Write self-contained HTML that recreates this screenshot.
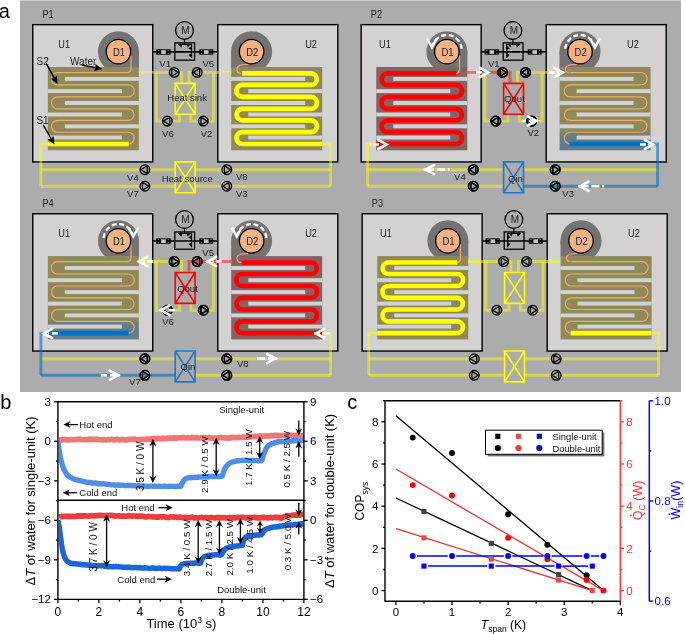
<!DOCTYPE html><html><head><meta charset="utf-8"><style>html,body{margin:0;padding:0;background:#fff;}svg{display:block;will-change:transform;}</style></head><body>
<svg width="685" height="634" viewBox="0 0 685 634" font-family='"Liberation Sans", sans-serif'>
<rect width="685" height="634" fill="#fff"/>
<rect x="20" y="0" width="661" height="392" fill="#acacac"/>
<rect x="20" y="0" width="661" height="1" fill="#cfcfcf"/>
<text x="-1.2" y="17.5" font-size="20" text-anchor="start" fill="#000" >a</text>
<text transform="translate(42.4,17.9) scale(0.92,1)" font-size="10" fill="#1a1a1a">P1</text>
<rect x="32.75" y="24.65" width="120" height="137.3" fill="#d3d1d2" stroke="#000" stroke-width="1.4"/>
<path d="M118.45 68 V51.7 H138.95 V68 Z" fill="#767272"/>
<circle cx="118.45" cy="51.7" r="20.5" fill="#767272"/>
<rect x="47.85" y="67" width="91" height="83.3" fill="#8f8958"/>
<rect x="64.85" y="76.93" width="74" height="3.95" fill="#d3d1d2"/>
<rect x="47.85" y="89.12" width="74" height="3.95" fill="#d3d1d2"/>
<rect x="64.85" y="101.03" width="74" height="3.95" fill="#d3d1d2"/>
<rect x="47.85" y="112.53" width="74" height="3.95" fill="#d3d1d2"/>
<rect x="64.85" y="124.33" width="74" height="3.95" fill="#d3d1d2"/>
<rect x="47.85" y="135.53" width="74" height="3.95" fill="#d3d1d2"/>
<path d="M131.05 55.7 V68.5 Q131.05 72.5 127.05 72.5 H128.25" fill="none" stroke="#eeab76" stroke-width="1.15"/>
<path d="M128.25 72.5 H57.45 A6.2 6.2 0 0 0 57.45 84.9 H128.25 A6 6 0 0 1 128.25 96.9 H57.45 A5.95 5.95 0 0 0 57.45 108.8 H128.25 A5.8 5.8 0 0 1 128.25 120.4 H57.45 A5.9 5.9 0 0 0 57.45 132.2 H128.25 A5.9 5.9 0 0 1 128.25 144 H57.45 " fill="none" stroke="#eeab76" stroke-width="1.15"/>
<line x1="47.85" y1="144" x2="128.75" y2="144" stroke="#ffff00" stroke-width="4.7"/>
<circle cx="118.45" cy="51.7" r="12.25" fill="#f4b183" stroke="#000" stroke-width="1.3"/>
<text transform="translate(119.05,55.9) scale(0.93,1)" font-size="10.2" text-anchor="middle" fill="#1a1a1a">D1</text>
<text transform="translate(58.25,47.75) scale(0.92,1)" font-size="10" fill="#1a1a1a">U1</text>
<rect x="217.8" y="24.65" width="120" height="137.3" fill="#d3d1d2" stroke="#000" stroke-width="1.4"/>
<path d="M251.6 68 V51.7 H231.1 V68 Z" fill="#767272"/>
<circle cx="251.6" cy="51.7" r="20.5" fill="#767272"/>
<rect x="231.2" y="67" width="91" height="83.3" fill="#8f8958"/>
<rect x="231.2" y="76.93" width="74" height="3.95" fill="#d3d1d2"/>
<rect x="248.2" y="89.12" width="74" height="3.95" fill="#d3d1d2"/>
<rect x="231.2" y="101.03" width="74" height="3.95" fill="#d3d1d2"/>
<rect x="248.2" y="112.53" width="74" height="3.95" fill="#d3d1d2"/>
<rect x="231.2" y="124.33" width="74" height="3.95" fill="#d3d1d2"/>
<rect x="248.2" y="135.53" width="74" height="3.95" fill="#d3d1d2"/>
<path d="M248.3 64.4 C240.1 64.5 236.9 65.7 236.9 69 C236.9 72.1 238.6 73.4 240.9 73.4" fill="none" stroke="#eeab76" stroke-width="1.15"/>
<path d="M242.2 73.4 H311 A5.75 5.75 0 0 1 311 84.9 H242.4 A6 6 0 0 0 242.4 96.9 H311 A5.95 5.95 0 0 1 311 108.8 H242.4 A5.8 5.8 0 0 0 242.4 120.4 H311 A5.9 5.9 0 0 1 311 132.2 H242.4 A5.9 5.9 0 0 0 242.4 144 H311 H322.2" fill="none" stroke="#ffff00" stroke-width="4.7"/>
<circle cx="251.6" cy="51.7" r="12.25" fill="#f4b183" stroke="#000" stroke-width="1.3"/>
<text transform="translate(252.2,55.9) scale(0.93,1)" font-size="10.2" text-anchor="middle" fill="#1a1a1a">D2</text>
<text transform="translate(305.2,47.75) scale(0.92,1)" font-size="10" fill="#1a1a1a">U2</text>
<line x1="152.8" y1="51.9" x2="217.8" y2="51.9" stroke="#000" stroke-width="1.6"/>
<circle cx="184.5" cy="30.45" r="8.9" fill="none" stroke="#000" stroke-width="1.3"/>
<text x="185.4" y="33.8" font-size="10" text-anchor="middle" fill="#1a1a1a" >M</text>
<line x1="184.5" y1="39.3" x2="184.5" y2="44.3" stroke="#000" stroke-width="1.2"/>
<rect x="174.8" y="42.85" width="19.8" height="17.3" fill="none" stroke="#000" stroke-width="1.3"/>
<g transform="translate(0,0)"><path d="M178.1 44.3 H191.5 V58.1" fill="none" stroke="#000" stroke-width="1.3"/><path d="M178.2 44.3 L182.7 44.3 L181.3 47.6 Z M186.7 44.3 L190.3 44.3 L187.8 47.5 Z M191.5 45.9 L191.5 49.7 L188.3 48.5 Z M191.5 53.1 L191.5 57.9 L188.7 54.9 Z" fill="#000"/></g>
<rect x="156.2" y="49.3" width="14.5" height="5.4" fill="#000"/>
<rect x="161.15" y="50.2" width="4.6" height="3.7" fill="#c8c8c8"/>
<rect x="157.8" y="50.1" width="1.4" height="0.9" fill="#777"/>
<rect x="157.8" y="53.1" width="1.4" height="0.9" fill="#777"/>
<rect x="167.7" y="50.1" width="1.4" height="0.9" fill="#777"/>
<rect x="167.7" y="53.1" width="1.4" height="0.9" fill="#777"/>
<rect x="199.3" y="49.3" width="14" height="5.4" fill="#000"/>
<rect x="204" y="50.2" width="4.6" height="3.7" fill="#c8c8c8"/>
<rect x="200.9" y="50.1" width="1.4" height="0.9" fill="#777"/>
<rect x="200.9" y="53.1" width="1.4" height="0.9" fill="#777"/>
<rect x="210.3" y="50.1" width="1.4" height="0.9" fill="#777"/>
<rect x="210.3" y="53.1" width="1.4" height="0.9" fill="#777"/>
<path d="M138.85 72.4 H174.2" fill="none" stroke="rgba(255,255,0,0.5)" stroke-width="2.9" stroke-linejoin="miter" stroke-linecap="butt"/>
<path d="M174.2 72.4 H181.6 V83.4" fill="none" stroke="rgba(255,255,0,0.5)" stroke-width="2.9" stroke-linejoin="miter" stroke-linecap="butt"/>
<path d="M197.2 72.4 H189 V83.4" fill="none" stroke="rgba(255,255,0,0.5)" stroke-width="2.9" stroke-linejoin="miter" stroke-linecap="butt"/>
<path d="M197.2 72.4 H231.2" fill="none" stroke="rgba(255,255,0,0.5)" stroke-width="2.9" stroke-linejoin="miter" stroke-linecap="butt"/>
<path d="M156.4 72.4 V121.1 H167.4" fill="none" stroke="rgba(255,255,0,0.5)" stroke-width="2.9" stroke-linejoin="miter" stroke-linecap="butt"/>
<path d="M213.6 72.4 V121.1 H203.3" fill="none" stroke="rgba(255,255,0,0.5)" stroke-width="2.9" stroke-linejoin="miter" stroke-linecap="butt"/>
<path d="M179.6 114.3 V121.1 H167.4" fill="none" stroke="rgba(255,255,0,0.5)" stroke-width="2.9" stroke-linejoin="miter" stroke-linecap="butt"/>
<path d="M190.9 114.3 V121.1 H203.3" fill="none" stroke="rgba(255,255,0,0.5)" stroke-width="2.9" stroke-linejoin="miter" stroke-linecap="butt"/>
<path d="M47.85 144 H40.9 V186.2" fill="none" stroke="rgba(255,255,0,0.5)" stroke-width="2.9" stroke-linejoin="miter" stroke-linecap="butt"/>
<path d="M40.9 169.7 H175" fill="none" stroke="rgba(255,255,0,0.5)" stroke-width="2.9" stroke-linejoin="miter" stroke-linecap="butt"/>
<path d="M40.9 186.2 H175" fill="none" stroke="rgba(255,255,0,0.5)" stroke-width="2.9" stroke-linejoin="miter" stroke-linecap="butt"/>
<path d="M195.2 169.7 H330.6" fill="none" stroke="rgba(255,255,0,0.5)" stroke-width="2.9" stroke-linejoin="miter" stroke-linecap="butt"/>
<path d="M195.2 186.2 H330.6" fill="none" stroke="rgba(255,255,0,0.5)" stroke-width="2.9" stroke-linejoin="miter" stroke-linecap="butt"/>
<path d="M322.2 144 H330.6 V186.2" fill="none" stroke="rgba(255,255,0,0.5)" stroke-width="2.9" stroke-linejoin="miter" stroke-linecap="butt"/>
<path d="M175.2 83.4 H195.1 V114.3 H175.2 Z M175.2 83.4 L195.1 114.3 M195.1 83.4 L175.2 114.3" fill="none" stroke="#ffff00" stroke-width="1.6"/>
<path d="M175.2 161.9 H195.1 V192.8 H175.2 Z M175.2 161.9 L195.1 192.8 M195.1 161.9 L175.2 192.8" fill="none" stroke="#ffff00" stroke-width="1.6"/>
<circle cx="174.2" cy="72.4" r="4.85" fill="#acacac" stroke="#000" stroke-width="1.35"/>
<path d="M171.8 68.5 L178.2 72.4 L171.8 76.3 Z" fill="none" stroke="#000" stroke-width="1.25" stroke-linejoin="round"/>
<circle cx="197.2" cy="72.4" r="4.85" fill="#acacac" stroke="#000" stroke-width="1.35"/>
<path d="M199.6 68.5 L193.2 72.4 L199.6 76.3 Z" fill="none" stroke="#000" stroke-width="1.25" stroke-linejoin="round"/>
<circle cx="167.4" cy="121.1" r="4.85" fill="#acacac" stroke="#000" stroke-width="1.35"/>
<path d="M169.8 117.2 L163.4 121.1 L169.8 125 Z" fill="none" stroke="#000" stroke-width="1.25" stroke-linejoin="round"/>
<circle cx="203.3" cy="121.1" r="4.85" fill="#acacac" stroke="#000" stroke-width="1.35"/>
<path d="M200.9 117.2 L207.3 121.1 L200.9 125 Z" fill="none" stroke="#000" stroke-width="1.25" stroke-linejoin="round"/>
<circle cx="144.9" cy="169.7" r="4.85" fill="#acacac" stroke="#000" stroke-width="1.35"/>
<path d="M147.3 165.8 L140.9 169.7 L147.3 173.6 Z" fill="none" stroke="#000" stroke-width="1.25" stroke-linejoin="round"/>
<circle cx="144.9" cy="186.2" r="4.85" fill="#acacac" stroke="#000" stroke-width="1.35"/>
<path d="M142.5 182.3 L148.9 186.2 L142.5 190.1 Z" fill="none" stroke="#000" stroke-width="1.25" stroke-linejoin="round"/>
<circle cx="226.8" cy="169.7" r="4.85" fill="#acacac" stroke="#000" stroke-width="1.35"/>
<path d="M224.4 165.8 L230.8 169.7 L224.4 173.6 Z" fill="none" stroke="#000" stroke-width="1.25" stroke-linejoin="round"/>
<circle cx="226.8" cy="186.2" r="4.85" fill="#acacac" stroke="#000" stroke-width="1.35"/>
<path d="M229.2 182.3 L222.8 186.2 L229.2 190.1 Z" fill="none" stroke="#000" stroke-width="1.25" stroke-linejoin="round"/>
<text x="187.1" y="101.4" font-size="9.5" text-anchor="middle" fill="#1a1a1a" >Heat sink</text>
<text x="187.3" y="181.5" font-size="9.5" text-anchor="middle" fill="#1a1a1a" >Heat source</text>
<text x="159.3" y="67.3" font-size="9.5" text-anchor="start" fill="#1a1a1a" >V1</text>
<text x="202.5" y="67.3" font-size="9.5" text-anchor="start" fill="#1a1a1a" >V5</text>
<text x="162.1" y="136.5" font-size="9.5" text-anchor="start" fill="#1a1a1a" >V6</text>
<text x="200.7" y="136.5" font-size="9.5" text-anchor="start" fill="#1a1a1a" >V2</text>
<text x="127.1" y="180.5" font-size="9.5" text-anchor="start" fill="#1a1a1a" >V4</text>
<text x="127.1" y="197" font-size="9.5" text-anchor="start" fill="#1a1a1a" >V7</text>
<text x="236" y="179.9" font-size="9.5" text-anchor="start" fill="#1a1a1a" >V8</text>
<text x="236" y="197" font-size="9.5" text-anchor="start" fill="#1a1a1a" >V3</text>
<text x="36.6" y="64.5" font-size="10" text-anchor="start" fill="#1a1a1a" >S2</text>
<text x="70" y="64.8" font-size="10" text-anchor="start" fill="#1a1a1a" >Water</text>
<text x="36.4" y="123.9" font-size="10" text-anchor="start" fill="#1a1a1a" >S1</text>
<line x1="46.2" y1="63.4" x2="54.31" y2="78.05" stroke="#000" stroke-width="1.5"/>
<path d="M57.6 84 L50.76 78.87 L54.4 78.23 L56.89 75.48 Z" fill="#000"/>
<line x1="81.7" y1="65.1" x2="95.62" y2="67.74" stroke="#000" stroke-width="1.5"/>
<path d="M102.3 69 L93.99 70.99 L95.82 67.77 L95.29 64.11 Z" fill="#000"/>
<line x1="43.2" y1="124.9" x2="51.09" y2="138.52" stroke="#000" stroke-width="1.5"/>
<path d="M54.5 144.4 L47.56 139.41 L51.19 138.69 L53.62 135.9 Z" fill="#000"/>
<text transform="translate(370.8,17.9) scale(0.92,1)" font-size="10" fill="#1a1a1a">P2</text>
<rect x="361.15" y="24.65" width="120" height="137.3" fill="#d3d1d2" stroke="#000" stroke-width="1.4"/>
<path d="M446.85 68 V51.7 H467.35 V68 Z" fill="#767272"/>
<circle cx="446.85" cy="51.7" r="20.5" fill="#767272"/>
<rect x="376.25" y="67" width="91" height="83.3" fill="#866262"/>
<rect x="393.25" y="76.93" width="74" height="3.95" fill="#d3d1d2"/>
<rect x="376.25" y="89.12" width="74" height="3.95" fill="#d3d1d2"/>
<rect x="393.25" y="101.03" width="74" height="3.95" fill="#d3d1d2"/>
<rect x="376.25" y="112.53" width="74" height="3.95" fill="#d3d1d2"/>
<rect x="393.25" y="124.33" width="74" height="3.95" fill="#d3d1d2"/>
<rect x="376.25" y="135.53" width="74" height="3.95" fill="#d3d1d2"/>
<path d="M459.45 55.7 V69.4 Q459.45 73.4 455.45 73.4 H456.65" fill="none" stroke="#eeab76" stroke-width="1.15"/>
<path d="M456.25 73.4 H387.45 A5.75 5.75 0 0 0 387.45 84.9 H456.05 A6 6 0 0 1 456.05 96.9 H387.45 A5.95 5.95 0 0 0 387.45 108.8 H456.05 A5.8 5.8 0 0 1 456.05 120.4 H387.45 A5.9 5.9 0 0 0 387.45 132.2 H456.05 A5.9 5.9 0 0 1 456.05 144 H387.45 H376.25" fill="none" stroke="#ff0000" stroke-width="4.7"/>
<circle cx="446.85" cy="51.7" r="12.25" fill="#f4b183" stroke="#000" stroke-width="1.3"/>
<text transform="translate(447.45,55.9) scale(0.93,1)" font-size="10.2" text-anchor="middle" fill="#1a1a1a">D1</text>
<text transform="translate(379.05,47.75) scale(0.92,1)" font-size="10" fill="#1a1a1a">U1</text>
<path d="M461.61 48.77 A14.8 14.8 0 0 0 432.62 45.72" fill="none" stroke="#fff" stroke-width="2.3" stroke-dasharray="5 2.6"/>
<path d="M436.55 38.8 L431.95 47.4 L427.05 38.5" fill="none" stroke="#fff" stroke-width="2.4" stroke-linejoin="miter"/>
<rect x="546.2" y="24.65" width="120" height="137.3" fill="#d3d1d2" stroke="#000" stroke-width="1.4"/>
<path d="M580 68 V51.7 H559.5 V68 Z" fill="#767272"/>
<circle cx="580" cy="51.7" r="20.5" fill="#767272"/>
<defs><linearGradient id="gP2b" x1="0" y1="0" x2="0" y2="1"><stop offset="0" stop-color="#8f8958"/><stop offset="0.755" stop-color="#8f8958"/><stop offset="0.8" stop-color="#737f72"/><stop offset="0.87" stop-color="#5f7d8f"/><stop offset="1" stop-color="#5f7d8f"/></linearGradient></defs>
<rect x="559.6" y="67" width="91" height="83.3" fill="url(#gP2b)"/>
<rect x="559.6" y="76.93" width="74" height="3.95" fill="#d3d1d2"/>
<rect x="576.6" y="89.12" width="74" height="3.95" fill="#d3d1d2"/>
<rect x="559.6" y="101.03" width="74" height="3.95" fill="#d3d1d2"/>
<rect x="576.6" y="112.53" width="74" height="3.95" fill="#d3d1d2"/>
<rect x="559.6" y="124.33" width="74" height="3.95" fill="#d3d1d2"/>
<rect x="576.6" y="135.53" width="74" height="3.95" fill="#d3d1d2"/>
<path d="M576.7 64.4 C568.5 64.5 565.3 65.7 565.3 69 C565.3 71.2 567 72.5 569.3 72.5" fill="none" stroke="#eeab76" stroke-width="1.15"/>
<path d="M570.2 72.5 H641 A6.2 6.2 0 0 1 641 84.9 H570.2 A6 6 0 0 0 570.2 96.9 H641 A5.95 5.95 0 0 1 641 108.8 H570.2 A5.8 5.8 0 0 0 570.2 120.4 H641 A5.9 5.9 0 0 1 641 132.2 H570.2 A5.9 5.9 0 0 0 570.2 144 H641 " fill="none" stroke="#eeab76" stroke-width="1.15"/>
<line x1="650.6" y1="144" x2="569.7" y2="144" stroke="#0070c0" stroke-width="4.7"/>
<circle cx="580" cy="51.7" r="12.25" fill="#f4b183" stroke="#000" stroke-width="1.3"/>
<text transform="translate(580.6,55.9) scale(0.93,1)" font-size="10.2" text-anchor="middle" fill="#1a1a1a">D2</text>
<text transform="translate(627,47.75) scale(0.92,1)" font-size="10" fill="#1a1a1a">U2</text>
<path d="M565.24 48.77 A14.8 14.8 0 0 1 594.23 45.72" fill="none" stroke="#fff" stroke-width="2.3" stroke-dasharray="5 2.6"/>
<path d="M590.3 38.8 L594.9 47.4 L599.8 38.5" fill="none" stroke="#fff" stroke-width="2.4" stroke-linejoin="miter"/>
<line x1="481.2" y1="51.9" x2="546.2" y2="51.9" stroke="#000" stroke-width="1.6"/>
<circle cx="512.9" cy="30.45" r="8.9" fill="none" stroke="#000" stroke-width="1.3"/>
<text x="513.8" y="33.8" font-size="10" text-anchor="middle" fill="#1a1a1a" >M</text>
<line x1="512.9" y1="39.3" x2="512.9" y2="44.3" stroke="#000" stroke-width="1.2"/>
<rect x="503.2" y="42.85" width="19.8" height="17.3" fill="none" stroke="#000" stroke-width="1.3"/>
<g transform="translate(698.2,0) scale(-1,1)"><path d="M178.1 44.3 H191.5 V58.1" fill="none" stroke="#000" stroke-width="1.3"/><path d="M178.2 44.3 L182.7 44.3 L181.3 47.6 Z M186.7 44.3 L190.3 44.3 L187.8 47.5 Z M191.5 45.9 L191.5 49.7 L188.3 48.5 Z M191.5 53.1 L191.5 57.9 L188.7 54.9 Z" fill="#000"/></g>
<rect x="484.6" y="49.3" width="14.5" height="5.4" fill="#000"/>
<rect x="489.55" y="50.2" width="4.6" height="3.7" fill="#c8c8c8"/>
<rect x="486.2" y="50.1" width="1.4" height="0.9" fill="#777"/>
<rect x="486.2" y="53.1" width="1.4" height="0.9" fill="#777"/>
<rect x="496.1" y="50.1" width="1.4" height="0.9" fill="#777"/>
<rect x="496.1" y="53.1" width="1.4" height="0.9" fill="#777"/>
<rect x="527.7" y="49.3" width="14" height="5.4" fill="#000"/>
<rect x="532.4" y="50.2" width="4.6" height="3.7" fill="#c8c8c8"/>
<rect x="529.3" y="50.1" width="1.4" height="0.9" fill="#777"/>
<rect x="529.3" y="53.1" width="1.4" height="0.9" fill="#777"/>
<rect x="538.7" y="50.1" width="1.4" height="0.9" fill="#777"/>
<rect x="538.7" y="53.1" width="1.4" height="0.9" fill="#777"/>
<path d="M525.6 72.4 H517.4 V83.4" fill="none" stroke="rgba(255,255,0,0.5)" stroke-width="2.9" stroke-linejoin="miter" stroke-linecap="butt"/>
<path d="M525.6 72.4 H559.6" fill="none" stroke="rgba(255,255,0,0.5)" stroke-width="2.9" stroke-linejoin="miter" stroke-linecap="butt"/>
<path d="M484.8 72.4 V121.1 H495.8" fill="none" stroke="rgba(255,255,0,0.5)" stroke-width="2.9" stroke-linejoin="miter" stroke-linecap="butt"/>
<path d="M542 72.4 V121.1 H531.7" fill="none" stroke="rgba(255,255,0,0.5)" stroke-width="2.9" stroke-linejoin="miter" stroke-linecap="butt"/>
<path d="M508 114.3 V121.1 H495.8" fill="none" stroke="rgba(255,255,0,0.5)" stroke-width="2.9" stroke-linejoin="miter" stroke-linecap="butt"/>
<path d="M519.3 114.3 V121.1 H531.7" fill="none" stroke="rgba(255,255,0,0.5)" stroke-width="2.9" stroke-linejoin="miter" stroke-linecap="butt"/>
<path d="M376.25 144 H367.6 V186.2" fill="none" stroke="rgba(255,255,0,0.5)" stroke-width="2.9" stroke-linejoin="miter" stroke-linecap="butt"/>
<path d="M367.6 169.7 H503.4" fill="none" stroke="rgba(255,255,0,0.5)" stroke-width="2.9" stroke-linejoin="miter" stroke-linecap="butt"/>
<path d="M367.6 186.2 H503.4" fill="none" stroke="rgba(255,255,0,0.5)" stroke-width="2.9" stroke-linejoin="miter" stroke-linecap="butt"/>
<path d="M523.6 169.7 H657.6" fill="none" stroke="rgba(255,255,0,0.5)" stroke-width="2.9" stroke-linejoin="miter" stroke-linecap="butt"/>
<path d="M503.6 83.4 H523.5 V114.3 H503.6 Z M503.6 83.4 L523.5 114.3 M523.5 83.4 L503.6 114.3" fill="none" stroke="#ff0000" stroke-width="1.6"/>
<path d="M503.6 161.9 H523.5 V192.8 H503.6 Z M503.6 161.9 L523.5 192.8 M523.5 161.9 L503.6 192.8" fill="none" stroke="#1e78c8" stroke-width="1.6"/>
<circle cx="502.6" cy="72.4" r="4.85" fill="#acacac" stroke="#000" stroke-width="1.35"/>
<path d="M500.2 68.5 L506.6 72.4 L500.2 76.3 Z" fill="none" stroke="#000" stroke-width="1.25" stroke-linejoin="round"/>
<circle cx="525.6" cy="72.4" r="4.85" fill="#acacac" stroke="#000" stroke-width="1.35"/>
<path d="M528 68.5 L521.6 72.4 L528 76.3 Z" fill="none" stroke="#000" stroke-width="1.25" stroke-linejoin="round"/>
<circle cx="495.8" cy="121.1" r="4.85" fill="#acacac" stroke="#000" stroke-width="1.35"/>
<path d="M498.2 117.2 L491.8 121.1 L498.2 125 Z" fill="none" stroke="#000" stroke-width="1.25" stroke-linejoin="round"/>
<circle cx="531.7" cy="121.1" r="4.85" fill="#acacac" stroke="#000" stroke-width="1.35"/>
<path d="M529.3 117.2 L535.7 121.1 L529.3 125 Z" fill="none" stroke="#000" stroke-width="1.25" stroke-linejoin="round"/>
<circle cx="473.3" cy="169.7" r="4.85" fill="#acacac" stroke="#000" stroke-width="1.35"/>
<path d="M475.7 165.8 L469.3 169.7 L475.7 173.6 Z" fill="none" stroke="#000" stroke-width="1.25" stroke-linejoin="round"/>
<circle cx="473.3" cy="186.2" r="4.85" fill="#acacac" stroke="#000" stroke-width="1.35"/>
<path d="M470.9 182.3 L477.3 186.2 L470.9 190.1 Z" fill="none" stroke="#000" stroke-width="1.25" stroke-linejoin="round"/>
<circle cx="555.2" cy="169.7" r="4.85" fill="#acacac" stroke="#000" stroke-width="1.35"/>
<path d="M552.8 165.8 L559.2 169.7 L552.8 173.6 Z" fill="none" stroke="#000" stroke-width="1.25" stroke-linejoin="round"/>
<circle cx="555.2" cy="186.2" r="4.85" fill="#acacac" stroke="#000" stroke-width="1.35"/>
<path d="M557.6 182.3 L551.2 186.2 L557.6 190.1 Z" fill="none" stroke="#000" stroke-width="1.25" stroke-linejoin="round"/>
<path d="M467.25 72.4 H502.6" fill="none" stroke="rgba(255,0,0,0.48)" stroke-width="2.9" stroke-linejoin="miter" stroke-linecap="butt"/>
<path d="M502.6 72.4 H510 V83.4" fill="none" stroke="rgba(255,0,0,0.48)" stroke-width="2.9" stroke-linejoin="miter" stroke-linecap="butt"/>
<path d="M523.6 186.2 H657.6" fill="none" stroke="rgba(0,112,192,0.6)" stroke-width="2.9" stroke-linejoin="miter" stroke-linecap="butt"/>
<path d="M650.6 144 H657.6 V186.2" fill="none" stroke="rgba(0,112,192,0.6)" stroke-width="2.9" stroke-linejoin="miter" stroke-linecap="butt"/>
<circle cx="502.6" cy="72.4" r="4.85" fill="none" stroke="#000" stroke-width="1.35"/>
<path d="M500.2 68.5 L506.6 72.4 L500.2 76.3 Z" fill="none" stroke="#000" stroke-width="1.25" stroke-linejoin="round"/>
<circle cx="525.6" cy="72.4" r="4.85" fill="none" stroke="#000" stroke-width="1.35"/>
<path d="M528 68.5 L521.6 72.4 L528 76.3 Z" fill="none" stroke="#000" stroke-width="1.25" stroke-linejoin="round"/>
<circle cx="495.8" cy="121.1" r="4.85" fill="none" stroke="#000" stroke-width="1.35"/>
<path d="M498.2 117.2 L491.8 121.1 L498.2 125 Z" fill="none" stroke="#000" stroke-width="1.25" stroke-linejoin="round"/>
<circle cx="531.7" cy="121.1" r="4.85" fill="none" stroke="#000" stroke-width="1.35"/>
<path d="M529.3 117.2 L535.7 121.1 L529.3 125 Z" fill="none" stroke="#000" stroke-width="1.25" stroke-linejoin="round"/>
<circle cx="473.3" cy="169.7" r="4.85" fill="none" stroke="#000" stroke-width="1.35"/>
<path d="M475.7 165.8 L469.3 169.7 L475.7 173.6 Z" fill="none" stroke="#000" stroke-width="1.25" stroke-linejoin="round"/>
<circle cx="473.3" cy="186.2" r="4.85" fill="none" stroke="#000" stroke-width="1.35"/>
<path d="M470.9 182.3 L477.3 186.2 L470.9 190.1 Z" fill="none" stroke="#000" stroke-width="1.25" stroke-linejoin="round"/>
<circle cx="555.2" cy="169.7" r="4.85" fill="none" stroke="#000" stroke-width="1.35"/>
<path d="M552.8 165.8 L559.2 169.7 L552.8 173.6 Z" fill="none" stroke="#000" stroke-width="1.25" stroke-linejoin="round"/>
<circle cx="555.2" cy="186.2" r="4.85" fill="none" stroke="#000" stroke-width="1.35"/>
<path d="M557.6 182.3 L551.2 186.2 L557.6 190.1 Z" fill="none" stroke="#000" stroke-width="1.25" stroke-linejoin="round"/>
<text x="514.5" y="102.4" font-size="9.5" text-anchor="middle" fill="#1a1a1a" >Qout</text>
<text x="515.5" y="182" font-size="9.5" text-anchor="middle" fill="#1a1a1a" >Qin</text>
<text x="487.9" y="66.9" font-size="9.5" text-anchor="start" fill="#1a1a1a" >V1</text>
<text x="527.5" y="136.2" font-size="9.5" text-anchor="start" fill="#1a1a1a" >V2</text>
<text x="454.1" y="180.4" font-size="9.5" text-anchor="start" fill="#1a1a1a" >V4</text>
<text x="562.3" y="196.8" font-size="9.5" text-anchor="start" fill="#1a1a1a" >V3</text>
<line x1="481.9" y1="72.4" x2="476.1" y2="72.4" stroke="#fff" stroke-width="2.5"/>
<path d="M479.7 67.8 L488.1 72.4 L479.7 77" fill="none" stroke="#fff" stroke-width="2.6" stroke-linecap="round" stroke-linejoin="miter" stroke-miterlimit="10"/>
<line x1="559" y1="72.5" x2="557.2" y2="72.5" stroke="#fff" stroke-width="2.5"/>
<line x1="554.9" y1="72.5" x2="549" y2="72.5" stroke="#fff" stroke-width="2.5"/>
<path d="M554.4 67.9 L562.8 72.5 L554.4 77.1" fill="none" stroke="#fff" stroke-width="2.6" stroke-linecap="round" stroke-linejoin="miter" stroke-miterlimit="10"/>
<line x1="538.1" y1="120.9" x2="529.1" y2="120.9" stroke="#fff" stroke-width="2.5"/>
<line x1="525.8" y1="120.9" x2="522" y2="120.9" stroke="#fff" stroke-width="2.5"/>
<path d="M527.7 116.3 L536.1 120.9 L527.7 125.5" fill="none" stroke="#fff" stroke-width="2.6" stroke-linecap="round" stroke-linejoin="miter" stroke-miterlimit="10"/>
<line x1="378.9" y1="144.4" x2="373.4" y2="144.4" stroke="#fff" stroke-width="2.5"/>
<line x1="371.3" y1="144.4" x2="370.2" y2="144.4" stroke="#fff" stroke-width="2.5"/>
<path d="M378.2 139.8 L386.6 144.4 L378.2 149" fill="none" stroke="#fff" stroke-width="2.6" stroke-linecap="round" stroke-linejoin="miter" stroke-miterlimit="10"/>
<line x1="649.6" y1="144.5" x2="648.1" y2="144.5" stroke="#fff" stroke-width="2.5"/>
<line x1="645.8" y1="144.5" x2="640" y2="144.5" stroke="#fff" stroke-width="2.5"/>
<path d="M644.7 139.9 L653.1 144.5 L644.7 149.1" fill="none" stroke="#fff" stroke-width="2.6" stroke-linecap="round" stroke-linejoin="miter" stroke-miterlimit="10"/>
<line x1="578.2" y1="186.2" x2="588.7" y2="186.2" stroke="#fff" stroke-width="2.5"/>
<line x1="591.3" y1="186.2" x2="599.5" y2="186.2" stroke="#fff" stroke-width="2.5"/>
<line x1="602.1" y1="186.2" x2="604.2" y2="186.2" stroke="#fff" stroke-width="2.5"/>
<path d="M588.6 181.6 L580.2 186.2 L588.6 190.8" fill="none" stroke="#fff" stroke-width="2.6" stroke-linecap="round" stroke-linejoin="miter" stroke-miterlimit="10"/>
<line x1="423.8" y1="169.6" x2="434" y2="169.6" stroke="#fff" stroke-width="2.5"/>
<line x1="437" y1="169.6" x2="445.1" y2="169.6" stroke="#fff" stroke-width="2.5"/>
<line x1="448" y1="169.6" x2="449.8" y2="169.6" stroke="#fff" stroke-width="2.5"/>
<path d="M434.2 165 L425.8 169.6 L434.2 174.2" fill="none" stroke="#fff" stroke-width="2.6" stroke-linecap="round" stroke-linejoin="miter" stroke-miterlimit="10"/>
<text transform="translate(42.4,207) scale(0.92,1)" font-size="10" fill="#1a1a1a">P4</text>
<rect x="32.75" y="213.75" width="120" height="137.3" fill="#d3d1d2" stroke="#000" stroke-width="1.4"/>
<path d="M118.45 257.1 V240.8 H138.95 V257.1 Z" fill="#767272"/>
<circle cx="118.45" cy="240.8" r="20.5" fill="#767272"/>
<defs><linearGradient id="gP4a" x1="0" y1="0" x2="0" y2="1"><stop offset="0" stop-color="#8f8958"/><stop offset="0.755" stop-color="#8f8958"/><stop offset="0.8" stop-color="#737f72"/><stop offset="0.87" stop-color="#5f7d8f"/><stop offset="1" stop-color="#5f7d8f"/></linearGradient></defs>
<rect x="47.85" y="256.1" width="91" height="83.3" fill="url(#gP4a)"/>
<rect x="64.85" y="266.02" width="74" height="3.95" fill="#d3d1d2"/>
<rect x="47.85" y="278.23" width="74" height="3.95" fill="#d3d1d2"/>
<rect x="64.85" y="290.12" width="74" height="3.95" fill="#d3d1d2"/>
<rect x="47.85" y="301.62" width="74" height="3.95" fill="#d3d1d2"/>
<rect x="64.85" y="313.43" width="74" height="3.95" fill="#d3d1d2"/>
<rect x="47.85" y="324.62" width="74" height="3.95" fill="#d3d1d2"/>
<path d="M131.05 244.8 V257.6 Q131.05 261.6 127.05 261.6 H128.25" fill="none" stroke="#eeab76" stroke-width="1.15"/>
<path d="M128.25 261.6 H57.45 A6.2 6.2 0 0 0 57.45 274 H128.25 A6 6 0 0 1 128.25 286 H57.45 A5.95 5.95 0 0 0 57.45 297.9 H128.25 A5.8 5.8 0 0 1 128.25 309.5 H57.45 A5.9 5.9 0 0 0 57.45 321.3 H128.25 A5.9 5.9 0 0 1 128.25 333.1 H57.45 " fill="none" stroke="#eeab76" stroke-width="1.15"/>
<line x1="47.85" y1="333.1" x2="128.75" y2="333.1" stroke="#0070c0" stroke-width="4.7"/>
<circle cx="118.45" cy="240.8" r="12.25" fill="#f4b183" stroke="#000" stroke-width="1.3"/>
<text transform="translate(119.05,245) scale(0.93,1)" font-size="10.2" text-anchor="middle" fill="#1a1a1a">D1</text>
<text transform="translate(58.25,236.85) scale(0.92,1)" font-size="10" fill="#1a1a1a">U1</text>
<path d="M103.69 237.87 A14.8 14.8 0 0 1 132.68 234.82" fill="none" stroke="#fff" stroke-width="2.3" stroke-dasharray="5 2.6"/>
<path d="M128.75 227.9 L133.35 236.5 L138.25 227.6" fill="none" stroke="#fff" stroke-width="2.4" stroke-linejoin="miter"/>
<rect x="217.8" y="213.75" width="120" height="137.3" fill="#d3d1d2" stroke="#000" stroke-width="1.4"/>
<path d="M251.6 257.1 V240.8 H231.1 V257.1 Z" fill="#767272"/>
<circle cx="251.6" cy="240.8" r="20.5" fill="#767272"/>
<rect x="231.2" y="256.1" width="91" height="83.3" fill="#866262"/>
<rect x="231.2" y="266.02" width="74" height="3.95" fill="#d3d1d2"/>
<rect x="248.2" y="278.23" width="74" height="3.95" fill="#d3d1d2"/>
<rect x="231.2" y="290.12" width="74" height="3.95" fill="#d3d1d2"/>
<rect x="248.2" y="301.62" width="74" height="3.95" fill="#d3d1d2"/>
<rect x="231.2" y="313.43" width="74" height="3.95" fill="#d3d1d2"/>
<rect x="248.2" y="324.62" width="74" height="3.95" fill="#d3d1d2"/>
<path d="M248.3 253.5 C240.1 253.6 236.9 254.8 236.9 258.1 C236.9 261.2 238.6 262.5 240.9 262.5" fill="none" stroke="#eeab76" stroke-width="1.15"/>
<path d="M242.2 262.5 H311 A5.75 5.75 0 0 1 311 274 H242.4 A6 6 0 0 0 242.4 286 H311 A5.95 5.95 0 0 1 311 297.9 H242.4 A5.8 5.8 0 0 0 242.4 309.5 H311 A5.9 5.9 0 0 1 311 321.3 H242.4 A5.9 5.9 0 0 0 242.4 333.1 H311 H322.2" fill="none" stroke="#ff0000" stroke-width="4.7"/>
<circle cx="251.6" cy="240.8" r="12.25" fill="#f4b183" stroke="#000" stroke-width="1.3"/>
<text transform="translate(252.2,245) scale(0.93,1)" font-size="10.2" text-anchor="middle" fill="#1a1a1a">D2</text>
<text transform="translate(305.2,236.85) scale(0.92,1)" font-size="10" fill="#1a1a1a">U2</text>
<path d="M266.36 237.87 A14.8 14.8 0 0 0 237.37 234.82" fill="none" stroke="#fff" stroke-width="2.3" stroke-dasharray="5 2.6"/>
<path d="M241.3 227.9 L236.7 236.5 L231.8 227.6" fill="none" stroke="#fff" stroke-width="2.4" stroke-linejoin="miter"/>
<line x1="152.8" y1="241" x2="217.8" y2="241" stroke="#000" stroke-width="1.6"/>
<circle cx="184.5" cy="219.55" r="8.9" fill="none" stroke="#000" stroke-width="1.3"/>
<text x="185.4" y="222.9" font-size="10" text-anchor="middle" fill="#1a1a1a" >M</text>
<line x1="184.5" y1="228.4" x2="184.5" y2="233.4" stroke="#000" stroke-width="1.2"/>
<rect x="174.8" y="231.95" width="19.8" height="17.3" fill="none" stroke="#000" stroke-width="1.3"/>
<g transform="translate(0,189.1)"><path d="M178.1 44.3 H191.5 V58.1" fill="none" stroke="#000" stroke-width="1.3"/><path d="M178.2 44.3 L182.7 44.3 L181.3 47.6 Z M186.7 44.3 L190.3 44.3 L187.8 47.5 Z M191.5 45.9 L191.5 49.7 L188.3 48.5 Z M191.5 53.1 L191.5 57.9 L188.7 54.9 Z" fill="#000"/></g>
<rect x="156.2" y="238.4" width="14.5" height="5.4" fill="#000"/>
<rect x="161.15" y="239.3" width="4.6" height="3.7" fill="#c8c8c8"/>
<rect x="157.8" y="239.2" width="1.4" height="0.9" fill="#777"/>
<rect x="157.8" y="242.2" width="1.4" height="0.9" fill="#777"/>
<rect x="167.7" y="239.2" width="1.4" height="0.9" fill="#777"/>
<rect x="167.7" y="242.2" width="1.4" height="0.9" fill="#777"/>
<rect x="199.3" y="238.4" width="14" height="5.4" fill="#000"/>
<rect x="204" y="239.3" width="4.6" height="3.7" fill="#c8c8c8"/>
<rect x="200.9" y="239.2" width="1.4" height="0.9" fill="#777"/>
<rect x="200.9" y="242.2" width="1.4" height="0.9" fill="#777"/>
<rect x="210.3" y="239.2" width="1.4" height="0.9" fill="#777"/>
<rect x="210.3" y="242.2" width="1.4" height="0.9" fill="#777"/>
<path d="M138.85 261.5 H174.2" fill="none" stroke="rgba(255,255,0,0.5)" stroke-width="2.9" stroke-linejoin="miter" stroke-linecap="butt"/>
<path d="M174.2 261.5 H181.6 V272.5" fill="none" stroke="rgba(255,255,0,0.5)" stroke-width="2.9" stroke-linejoin="miter" stroke-linecap="butt"/>
<path d="M156.4 261.5 V310.2 H167.4" fill="none" stroke="rgba(255,255,0,0.5)" stroke-width="2.9" stroke-linejoin="miter" stroke-linecap="butt"/>
<path d="M213.6 261.5 V310.2 H203.3" fill="none" stroke="rgba(255,255,0,0.5)" stroke-width="2.9" stroke-linejoin="miter" stroke-linecap="butt"/>
<path d="M179.6 303.4 V310.2 H167.4" fill="none" stroke="rgba(255,255,0,0.5)" stroke-width="2.9" stroke-linejoin="miter" stroke-linecap="butt"/>
<path d="M190.9 303.4 V310.2 H203.3" fill="none" stroke="rgba(255,255,0,0.5)" stroke-width="2.9" stroke-linejoin="miter" stroke-linecap="butt"/>
<path d="M40.9 358.8 H175" fill="none" stroke="rgba(255,255,0,0.5)" stroke-width="2.9" stroke-linejoin="miter" stroke-linecap="butt"/>
<path d="M195.2 358.8 H330.6" fill="none" stroke="rgba(255,255,0,0.5)" stroke-width="2.9" stroke-linejoin="miter" stroke-linecap="butt"/>
<path d="M195.2 375.3 H330.6" fill="none" stroke="rgba(255,255,0,0.5)" stroke-width="2.9" stroke-linejoin="miter" stroke-linecap="butt"/>
<path d="M322.2 333.1 H330.6 V375.3" fill="none" stroke="rgba(255,255,0,0.5)" stroke-width="2.9" stroke-linejoin="miter" stroke-linecap="butt"/>
<path d="M175.2 272.5 H195.1 V303.4 H175.2 Z M175.2 272.5 L195.1 303.4 M195.1 272.5 L175.2 303.4" fill="none" stroke="#ff0000" stroke-width="1.6"/>
<path d="M175.2 351 H195.1 V381.9 H175.2 Z M175.2 351 L195.1 381.9 M195.1 351 L175.2 381.9" fill="none" stroke="#1e78c8" stroke-width="1.6"/>
<circle cx="174.2" cy="261.5" r="4.85" fill="#acacac" stroke="#000" stroke-width="1.35"/>
<path d="M171.8 257.6 L178.2 261.5 L171.8 265.4 Z" fill="none" stroke="#000" stroke-width="1.25" stroke-linejoin="round"/>
<circle cx="197.2" cy="261.5" r="4.85" fill="#acacac" stroke="#000" stroke-width="1.35"/>
<path d="M199.6 257.6 L193.2 261.5 L199.6 265.4 Z" fill="none" stroke="#000" stroke-width="1.25" stroke-linejoin="round"/>
<circle cx="167.4" cy="310.2" r="4.85" fill="#acacac" stroke="#000" stroke-width="1.35"/>
<path d="M169.8 306.3 L163.4 310.2 L169.8 314.1 Z" fill="none" stroke="#000" stroke-width="1.25" stroke-linejoin="round"/>
<circle cx="203.3" cy="310.2" r="4.85" fill="#acacac" stroke="#000" stroke-width="1.35"/>
<path d="M200.9 306.3 L207.3 310.2 L200.9 314.1 Z" fill="none" stroke="#000" stroke-width="1.25" stroke-linejoin="round"/>
<circle cx="144.9" cy="358.8" r="4.85" fill="#acacac" stroke="#000" stroke-width="1.35"/>
<path d="M147.3 354.9 L140.9 358.8 L147.3 362.7 Z" fill="none" stroke="#000" stroke-width="1.25" stroke-linejoin="round"/>
<circle cx="144.9" cy="375.3" r="4.85" fill="#acacac" stroke="#000" stroke-width="1.35"/>
<path d="M142.5 371.4 L148.9 375.3 L142.5 379.2 Z" fill="none" stroke="#000" stroke-width="1.25" stroke-linejoin="round"/>
<circle cx="226.8" cy="358.8" r="4.85" fill="#acacac" stroke="#000" stroke-width="1.35"/>
<path d="M224.4 354.9 L230.8 358.8 L224.4 362.7 Z" fill="none" stroke="#000" stroke-width="1.25" stroke-linejoin="round"/>
<circle cx="226.8" cy="375.3" r="4.85" fill="#acacac" stroke="#000" stroke-width="1.35"/>
<path d="M229.2 371.4 L222.8 375.3 L229.2 379.2 Z" fill="none" stroke="#000" stroke-width="1.25" stroke-linejoin="round"/>
<path d="M197.2 261.5 H189 V272.5" fill="none" stroke="rgba(255,0,0,0.48)" stroke-width="2.9" stroke-linejoin="miter" stroke-linecap="butt"/>
<path d="M197.2 261.5 H231.2" fill="none" stroke="rgba(255,0,0,0.48)" stroke-width="2.9" stroke-linejoin="miter" stroke-linecap="butt"/>
<path d="M47.85 333.1 H40.9 V375.3" fill="none" stroke="rgba(0,112,192,0.6)" stroke-width="2.9" stroke-linejoin="miter" stroke-linecap="butt"/>
<path d="M40.9 375.3 H175" fill="none" stroke="rgba(0,112,192,0.6)" stroke-width="2.9" stroke-linejoin="miter" stroke-linecap="butt"/>
<circle cx="174.2" cy="261.5" r="4.85" fill="none" stroke="#000" stroke-width="1.35"/>
<path d="M171.8 257.6 L178.2 261.5 L171.8 265.4 Z" fill="none" stroke="#000" stroke-width="1.25" stroke-linejoin="round"/>
<circle cx="197.2" cy="261.5" r="4.85" fill="none" stroke="#000" stroke-width="1.35"/>
<path d="M199.6 257.6 L193.2 261.5 L199.6 265.4 Z" fill="none" stroke="#000" stroke-width="1.25" stroke-linejoin="round"/>
<circle cx="167.4" cy="310.2" r="4.85" fill="none" stroke="#000" stroke-width="1.35"/>
<path d="M169.8 306.3 L163.4 310.2 L169.8 314.1 Z" fill="none" stroke="#000" stroke-width="1.25" stroke-linejoin="round"/>
<circle cx="203.3" cy="310.2" r="4.85" fill="none" stroke="#000" stroke-width="1.35"/>
<path d="M200.9 306.3 L207.3 310.2 L200.9 314.1 Z" fill="none" stroke="#000" stroke-width="1.25" stroke-linejoin="round"/>
<circle cx="144.9" cy="358.8" r="4.85" fill="none" stroke="#000" stroke-width="1.35"/>
<path d="M147.3 354.9 L140.9 358.8 L147.3 362.7 Z" fill="none" stroke="#000" stroke-width="1.25" stroke-linejoin="round"/>
<circle cx="144.9" cy="375.3" r="4.85" fill="none" stroke="#000" stroke-width="1.35"/>
<path d="M142.5 371.4 L148.9 375.3 L142.5 379.2 Z" fill="none" stroke="#000" stroke-width="1.25" stroke-linejoin="round"/>
<circle cx="226.8" cy="358.8" r="4.85" fill="none" stroke="#000" stroke-width="1.35"/>
<path d="M224.4 354.9 L230.8 358.8 L224.4 362.7 Z" fill="none" stroke="#000" stroke-width="1.25" stroke-linejoin="round"/>
<circle cx="226.8" cy="375.3" r="4.85" fill="none" stroke="#000" stroke-width="1.35"/>
<path d="M229.2 371.4 L222.8 375.3 L229.2 379.2 Z" fill="none" stroke="#000" stroke-width="1.25" stroke-linejoin="round"/>
<text x="187.5" y="291.9" font-size="9.5" text-anchor="middle" fill="#1a1a1a" >Qout</text>
<text x="188" y="370.4" font-size="9.5" text-anchor="middle" fill="#1a1a1a" >Qin</text>
<text x="202.3" y="256" font-size="9.5" text-anchor="start" fill="#1a1a1a" >V5</text>
<text x="162.2" y="325.1" font-size="9.5" text-anchor="start" fill="#1a1a1a" >V6</text>
<text x="129.1" y="384.6" font-size="9.5" text-anchor="start" fill="#1a1a1a" >V7</text>
<text x="237" y="367.4" font-size="9.5" text-anchor="start" fill="#1a1a1a" >V8</text>
<line x1="143.4" y1="261.5" x2="144.9" y2="261.5" stroke="#fff" stroke-width="2.5"/>
<line x1="146.9" y1="261.5" x2="152.8" y2="261.5" stroke="#fff" stroke-width="2.5"/>
<path d="M147.4 256.9 L139 261.5 L147.4 266.1" fill="none" stroke="#fff" stroke-width="2.6" stroke-linecap="round" stroke-linejoin="miter" stroke-miterlimit="10"/>
<line x1="168.7" y1="310.3" x2="174.8" y2="310.3" stroke="#fff" stroke-width="2.5"/>
<path d="M169.5 305.7 L161.1 310.3 L169.5 314.9" fill="none" stroke="#fff" stroke-width="2.6" stroke-linecap="round" stroke-linejoin="miter" stroke-miterlimit="10"/>
<line x1="48.1" y1="333.4" x2="49" y2="333.4" stroke="#fff" stroke-width="2.5"/>
<line x1="51.9" y1="333.4" x2="57.8" y2="333.4" stroke="#fff" stroke-width="2.5"/>
<path d="M52.1 328.8 L43.7 333.4 L52.1 338" fill="none" stroke="#fff" stroke-width="2.6" stroke-linecap="round" stroke-linejoin="miter" stroke-miterlimit="10"/>
<line x1="120.1" y1="375.3" x2="109.9" y2="375.3" stroke="#fff" stroke-width="2.5"/>
<line x1="107" y1="375.3" x2="100.8" y2="375.3" stroke="#fff" stroke-width="2.5"/>
<path d="M109.7 370.7 L118.1 375.3 L109.7 379.9" fill="none" stroke="#fff" stroke-width="2.6" stroke-linecap="round" stroke-linejoin="miter" stroke-miterlimit="10"/>
<line x1="205.8" y1="261.5" x2="210.2" y2="261.5" stroke="#fff" stroke-width="2.5"/>
<line x1="212.5" y1="261.5" x2="213.7" y2="261.5" stroke="#fff" stroke-width="2.5"/>
<line x1="216.3" y1="261.5" x2="221.6" y2="261.5" stroke="#fff" stroke-width="2.5"/>
<path d="M216.2 256.9 L207.8 261.5 L216.2 266.1" fill="none" stroke="#fff" stroke-width="2.6" stroke-linecap="round" stroke-linejoin="miter" stroke-miterlimit="10"/>
<line x1="314" y1="333.4" x2="319.9" y2="333.4" stroke="#fff" stroke-width="2.5"/>
<line x1="323.4" y1="333.4" x2="329.8" y2="333.4" stroke="#fff" stroke-width="2.5"/>
<path d="M324.4 328.8 L316 333.4 L324.4 338" fill="none" stroke="#fff" stroke-width="2.6" stroke-linecap="round" stroke-linejoin="miter" stroke-miterlimit="10"/>
<line x1="277.4" y1="358.6" x2="268.1" y2="358.6" stroke="#fff" stroke-width="2.5"/>
<line x1="264.9" y1="358.6" x2="257" y2="358.6" stroke="#fff" stroke-width="2.5"/>
<path d="M267 354 L275.4 358.6 L267 363.2" fill="none" stroke="#fff" stroke-width="2.6" stroke-linecap="round" stroke-linejoin="miter" stroke-miterlimit="10"/>
<text transform="translate(371.8,207) scale(0.92,1)" font-size="10" fill="#1a1a1a">P3</text>
<rect x="362.15" y="213.75" width="120" height="137.3" fill="#d3d1d2" stroke="#000" stroke-width="1.4"/>
<path d="M447.85 257.1 V240.8 H468.35 V257.1 Z" fill="#767272"/>
<circle cx="447.85" cy="240.8" r="20.5" fill="#767272"/>
<rect x="377.25" y="256.1" width="91" height="83.3" fill="#8f8958"/>
<rect x="394.25" y="266.02" width="74" height="3.95" fill="#d3d1d2"/>
<rect x="377.25" y="278.23" width="74" height="3.95" fill="#d3d1d2"/>
<rect x="394.25" y="290.12" width="74" height="3.95" fill="#d3d1d2"/>
<rect x="377.25" y="301.62" width="74" height="3.95" fill="#d3d1d2"/>
<rect x="394.25" y="313.43" width="74" height="3.95" fill="#d3d1d2"/>
<rect x="377.25" y="324.62" width="74" height="3.95" fill="#d3d1d2"/>
<path d="M460.45 244.8 V258.5 Q460.45 262.5 456.45 262.5 H457.65" fill="none" stroke="#eeab76" stroke-width="1.15"/>
<path d="M457.25 262.5 H388.45 A5.75 5.75 0 0 0 388.45 274 H457.05 A6 6 0 0 1 457.05 286 H388.45 A5.95 5.95 0 0 0 388.45 297.9 H457.05 A5.8 5.8 0 0 1 457.05 309.5 H388.45 A5.9 5.9 0 0 0 388.45 321.3 H457.05 A5.9 5.9 0 0 1 457.05 333.1 H388.45 H377.25" fill="none" stroke="#ffff00" stroke-width="4.7"/>
<circle cx="447.85" cy="240.8" r="12.25" fill="#f4b183" stroke="#000" stroke-width="1.3"/>
<text transform="translate(448.45,245) scale(0.93,1)" font-size="10.2" text-anchor="middle" fill="#1a1a1a">D1</text>
<text transform="translate(380.05,236.85) scale(0.92,1)" font-size="10" fill="#1a1a1a">U1</text>
<rect x="547.2" y="213.75" width="120" height="137.3" fill="#d3d1d2" stroke="#000" stroke-width="1.4"/>
<path d="M581 257.1 V240.8 H560.5 V257.1 Z" fill="#767272"/>
<circle cx="581" cy="240.8" r="20.5" fill="#767272"/>
<rect x="560.6" y="256.1" width="91" height="83.3" fill="#8f8958"/>
<rect x="560.6" y="266.02" width="74" height="3.95" fill="#d3d1d2"/>
<rect x="577.6" y="278.23" width="74" height="3.95" fill="#d3d1d2"/>
<rect x="560.6" y="290.12" width="74" height="3.95" fill="#d3d1d2"/>
<rect x="577.6" y="301.62" width="74" height="3.95" fill="#d3d1d2"/>
<rect x="560.6" y="313.43" width="74" height="3.95" fill="#d3d1d2"/>
<rect x="577.6" y="324.62" width="74" height="3.95" fill="#d3d1d2"/>
<path d="M577.7 253.5 C569.5 253.6 566.3 254.8 566.3 258.1 C566.3 260.3 568 261.6 570.3 261.6" fill="none" stroke="#eeab76" stroke-width="1.15"/>
<path d="M571.2 261.6 H642 A6.2 6.2 0 0 1 642 274 H571.2 A6 6 0 0 0 571.2 286 H642 A5.95 5.95 0 0 1 642 297.9 H571.2 A5.8 5.8 0 0 0 571.2 309.5 H642 A5.9 5.9 0 0 1 642 321.3 H571.2 A5.9 5.9 0 0 0 571.2 333.1 H642 " fill="none" stroke="#eeab76" stroke-width="1.15"/>
<line x1="651.6" y1="333.1" x2="570.7" y2="333.1" stroke="#ffff00" stroke-width="4.7"/>
<circle cx="581" cy="240.8" r="12.25" fill="#f4b183" stroke="#000" stroke-width="1.3"/>
<text transform="translate(581.6,245) scale(0.93,1)" font-size="10.2" text-anchor="middle" fill="#1a1a1a">D2</text>
<text transform="translate(628,236.85) scale(0.92,1)" font-size="10" fill="#1a1a1a">U2</text>
<line x1="482.2" y1="241" x2="547.2" y2="241" stroke="#000" stroke-width="1.6"/>
<circle cx="513.9" cy="219.55" r="8.9" fill="none" stroke="#000" stroke-width="1.3"/>
<text x="514.8" y="222.9" font-size="10" text-anchor="middle" fill="#1a1a1a" >M</text>
<line x1="513.9" y1="228.4" x2="513.9" y2="233.4" stroke="#000" stroke-width="1.2"/>
<rect x="504.2" y="231.95" width="19.8" height="17.3" fill="none" stroke="#000" stroke-width="1.3"/>
<g transform="translate(699.2,189.1) scale(-1,1)"><path d="M178.1 44.3 H191.5 V58.1" fill="none" stroke="#000" stroke-width="1.3"/><path d="M178.2 44.3 L182.7 44.3 L181.3 47.6 Z M186.7 44.3 L190.3 44.3 L187.8 47.5 Z M191.5 45.9 L191.5 49.7 L188.3 48.5 Z M191.5 53.1 L191.5 57.9 L188.7 54.9 Z" fill="#000"/></g>
<rect x="485.6" y="238.4" width="14.5" height="5.4" fill="#000"/>
<rect x="490.55" y="239.3" width="4.6" height="3.7" fill="#c8c8c8"/>
<rect x="487.2" y="239.2" width="1.4" height="0.9" fill="#777"/>
<rect x="487.2" y="242.2" width="1.4" height="0.9" fill="#777"/>
<rect x="497.1" y="239.2" width="1.4" height="0.9" fill="#777"/>
<rect x="497.1" y="242.2" width="1.4" height="0.9" fill="#777"/>
<rect x="528.7" y="238.4" width="14" height="5.4" fill="#000"/>
<rect x="533.4" y="239.3" width="4.6" height="3.7" fill="#c8c8c8"/>
<rect x="530.3" y="239.2" width="1.4" height="0.9" fill="#777"/>
<rect x="530.3" y="242.2" width="1.4" height="0.9" fill="#777"/>
<rect x="539.7" y="239.2" width="1.4" height="0.9" fill="#777"/>
<rect x="539.7" y="242.2" width="1.4" height="0.9" fill="#777"/>
<path d="M468.25 261.5 H503.6" fill="none" stroke="rgba(255,255,0,0.5)" stroke-width="2.9" stroke-linejoin="miter" stroke-linecap="butt"/>
<path d="M503.6 261.5 H511 V272.5" fill="none" stroke="rgba(255,255,0,0.5)" stroke-width="2.9" stroke-linejoin="miter" stroke-linecap="butt"/>
<path d="M526.6 261.5 H518.4 V272.5" fill="none" stroke="rgba(255,255,0,0.5)" stroke-width="2.9" stroke-linejoin="miter" stroke-linecap="butt"/>
<path d="M526.6 261.5 H560.6" fill="none" stroke="rgba(255,255,0,0.5)" stroke-width="2.9" stroke-linejoin="miter" stroke-linecap="butt"/>
<path d="M485.8 261.5 V310.2 H496.8" fill="none" stroke="rgba(255,255,0,0.5)" stroke-width="2.9" stroke-linejoin="miter" stroke-linecap="butt"/>
<path d="M543 261.5 V310.2 H532.7" fill="none" stroke="rgba(255,255,0,0.5)" stroke-width="2.9" stroke-linejoin="miter" stroke-linecap="butt"/>
<path d="M509 303.4 V310.2 H496.8" fill="none" stroke="rgba(255,255,0,0.5)" stroke-width="2.9" stroke-linejoin="miter" stroke-linecap="butt"/>
<path d="M520.3 303.4 V310.2 H532.7" fill="none" stroke="rgba(255,255,0,0.5)" stroke-width="2.9" stroke-linejoin="miter" stroke-linecap="butt"/>
<path d="M377.25 333.1 H368.7 V375.3" fill="none" stroke="rgba(255,255,0,0.5)" stroke-width="2.9" stroke-linejoin="miter" stroke-linecap="butt"/>
<path d="M368.7 358.8 H504.4" fill="none" stroke="rgba(255,255,0,0.5)" stroke-width="2.9" stroke-linejoin="miter" stroke-linecap="butt"/>
<path d="M368.7 375.3 H504.4" fill="none" stroke="rgba(255,255,0,0.5)" stroke-width="2.9" stroke-linejoin="miter" stroke-linecap="butt"/>
<path d="M524.6 358.8 H658.5" fill="none" stroke="rgba(255,255,0,0.5)" stroke-width="2.9" stroke-linejoin="miter" stroke-linecap="butt"/>
<path d="M524.6 375.3 H658.5" fill="none" stroke="rgba(255,255,0,0.5)" stroke-width="2.9" stroke-linejoin="miter" stroke-linecap="butt"/>
<path d="M651.6 333.1 H658.5 V375.3" fill="none" stroke="rgba(255,255,0,0.5)" stroke-width="2.9" stroke-linejoin="miter" stroke-linecap="butt"/>
<path d="M504.6 272.5 H524.5 V303.4 H504.6 Z M504.6 272.5 L524.5 303.4 M524.5 272.5 L504.6 303.4" fill="none" stroke="#ffff00" stroke-width="1.6"/>
<path d="M504.6 351 H524.5 V381.9 H504.6 Z M504.6 351 L524.5 381.9 M524.5 351 L504.6 381.9" fill="none" stroke="#ffff00" stroke-width="1.6"/>
<circle cx="503.6" cy="261.5" r="4.85" fill="#acacac" stroke="#000" stroke-width="1.35"/>
<path d="M501.2 257.6 L507.6 261.5 L501.2 265.4 Z" fill="none" stroke="#000" stroke-width="1.25" stroke-linejoin="round"/>
<circle cx="526.6" cy="261.5" r="4.85" fill="#acacac" stroke="#000" stroke-width="1.35"/>
<path d="M529 257.6 L522.6 261.5 L529 265.4 Z" fill="none" stroke="#000" stroke-width="1.25" stroke-linejoin="round"/>
<circle cx="496.8" cy="310.2" r="4.85" fill="#acacac" stroke="#000" stroke-width="1.35"/>
<path d="M499.2 306.3 L492.8 310.2 L499.2 314.1 Z" fill="none" stroke="#000" stroke-width="1.25" stroke-linejoin="round"/>
<circle cx="532.7" cy="310.2" r="4.85" fill="#acacac" stroke="#000" stroke-width="1.35"/>
<path d="M530.3 306.3 L536.7 310.2 L530.3 314.1 Z" fill="none" stroke="#000" stroke-width="1.25" stroke-linejoin="round"/>
<circle cx="474.3" cy="358.8" r="4.85" fill="#acacac" stroke="#000" stroke-width="1.35"/>
<path d="M476.7 354.9 L470.3 358.8 L476.7 362.7 Z" fill="none" stroke="#000" stroke-width="1.25" stroke-linejoin="round"/>
<circle cx="474.3" cy="375.3" r="4.85" fill="#acacac" stroke="#000" stroke-width="1.35"/>
<path d="M471.9 371.4 L478.3 375.3 L471.9 379.2 Z" fill="none" stroke="#000" stroke-width="1.25" stroke-linejoin="round"/>
<circle cx="556.2" cy="358.8" r="4.85" fill="#acacac" stroke="#000" stroke-width="1.35"/>
<path d="M553.8 354.9 L560.2 358.8 L553.8 362.7 Z" fill="none" stroke="#000" stroke-width="1.25" stroke-linejoin="round"/>
<circle cx="556.2" cy="375.3" r="4.85" fill="#acacac" stroke="#000" stroke-width="1.35"/>
<path d="M558.6 371.4 L552.2 375.3 L558.6 379.2 Z" fill="none" stroke="#000" stroke-width="1.25" stroke-linejoin="round"/>
<text x="0.3" y="409.1" font-size="20" text-anchor="start" fill="#000" >b</text>
<defs><clipPath id="cb"><rect x="58.6" y="402.5" width="244.59999999999997" height="196.19999999999996"/></clipPath></defs>
<g clip-path="url(#cb)">
<polyline points="58.92,439.78 59.74,439.86 60.56,439.78 61.37,439.87 62.19,439.92 63.01,439.59 63.82,439.36 64.64,439.74 65.46,439.57 66.27,439.46 67.09,439.86 67.91,439.74 68.72,439.90 69.54,439.75 70.36,439.76 71.17,439.44 71.99,439.57 72.81,439.78 73.62,439.66 74.44,439.73 75.26,439.72 76.07,439.32 76.89,439.53 77.71,439.54 78.52,439.35 79.34,439.08 80.16,439.45 80.97,439.40 81.79,439.52 82.61,439.69 83.42,439.67 84.24,439.79 85.06,439.52 85.87,439.63 86.69,439.46 87.51,439.68 88.32,439.76 89.14,439.31 89.96,439.09 90.77,439.02 91.59,439.46 92.40,439.37 93.22,439.44 94.04,439.27 94.85,439.32 95.67,439.26 96.49,439.22 97.30,439.34 98.12,439.42 98.94,439.66 99.75,439.66 100.57,439.82 101.39,439.86 102.20,439.98 103.02,439.85 103.84,439.46 104.65,439.69 105.47,439.88 106.29,439.96 107.10,439.79 107.92,439.80 108.74,439.49 109.55,439.71 110.37,439.68 111.19,439.48 112.00,439.24 112.82,439.61 113.64,439.90 114.45,439.49 115.27,439.72 116.09,439.61 116.90,439.38 117.72,439.35 118.54,439.63 119.35,439.86 120.17,439.46 120.99,439.60 121.80,439.32 122.62,439.59 123.44,439.49 124.25,439.78 125.07,440.01 125.88,439.83 126.70,440.04 127.52,439.72 128.33,439.39 129.15,439.54 129.97,439.25 130.78,439.20 131.60,439.29 132.42,439.47 133.23,439.27 134.05,439.09 134.87,439.50 135.68,439.36 136.50,439.69 137.32,439.82 138.13,439.56 138.95,439.45 139.77,439.43 140.58,439.48 141.40,439.46 142.22,439.42 143.03,439.42 143.85,439.62 144.67,439.44 145.48,439.28 146.30,439.36 147.12,439.08 147.93,438.96 148.75,439.30 149.57,439.19 150.38,439.13 151.20,438.74 152.02,438.77 152.83,438.88 153.65,438.56 154.47,438.75 155.28,438.85 156.10,438.53 156.91,438.70 157.73,438.67 158.55,438.77 159.36,438.61 160.18,438.73 161.00,438.80 161.81,438.37 162.63,438.14 163.45,438.39 164.26,438.69 165.08,438.40 165.90,438.35 166.71,438.39 167.53,438.23 168.35,438.16 169.16,438.07 169.98,438.05 170.80,438.17 171.61,438.03 172.43,438.00 173.25,438.21 174.06,437.85 174.88,437.98 175.70,438.15 176.51,437.97 177.33,437.80 178.15,438.07 178.96,437.85 179.78,437.69 180.60,437.75 181.41,437.94 182.23,437.66 183.05,437.64 183.86,437.64 184.68,437.94 185.50,437.85 186.31,438.07 187.13,437.75 187.95,437.67 188.76,437.83 189.58,438.05 190.39,437.91 191.21,437.68 192.03,437.49 192.84,437.64 193.66,437.51 194.48,437.82 195.29,438.01 196.11,437.71 196.93,437.60 197.74,437.87 198.56,437.92 199.38,438.05 200.19,437.83 201.01,437.58 201.83,437.54 202.64,437.84 203.46,437.67 204.28,437.63 205.09,437.65 205.91,437.67 206.73,437.67 207.54,438.00 208.36,437.70 209.18,437.43 209.99,437.88 210.81,438.09 211.63,438.27 212.44,438.03 213.26,438.21 214.08,438.30 214.89,437.91 215.71,438.02 216.53,438.14 217.34,438.09 218.16,437.97 218.98,437.76 219.79,437.67 220.61,437.55 221.43,437.38 222.24,437.61 223.06,437.54 223.87,437.83 224.69,437.50 225.51,437.86 226.32,437.91 227.14,438.08 227.96,438.15 228.77,438.18 229.59,437.99 230.41,437.52 231.22,437.71 232.04,437.45 232.86,437.37 233.67,437.55 234.49,437.55 235.31,437.47 236.12,437.74 236.94,437.67 237.76,437.45 238.57,437.26 239.39,437.53 240.21,437.41 241.02,437.53 241.84,437.31 242.66,437.07 243.47,437.14 244.29,437.34 245.11,437.03 245.92,437.23 246.74,437.40 247.56,437.41 248.37,437.40 249.19,436.87 250.01,436.95 250.82,437.12 251.64,436.69 252.46,436.57 253.27,436.48 254.09,436.58 254.91,436.55 255.72,436.54 256.54,436.71 257.35,436.30 258.17,436.09 258.99,436.00 259.80,435.93 260.62,435.83 261.44,436.34 262.25,436.52 263.07,436.11 263.89,436.14 264.70,436.02 265.52,435.93 266.34,435.89 267.15,436.04 267.97,436.06 268.79,435.92 269.60,435.72 270.42,435.68 271.24,435.51 272.05,435.67 272.87,435.85 273.69,435.72 274.50,435.45 275.32,435.35 276.14,435.40 276.95,435.57 277.77,435.76 278.59,435.60 279.40,435.76 280.22,435.73 281.04,435.58 281.85,435.46 282.67,435.45 283.49,435.57 284.30,435.45 285.12,435.55 285.94,435.45 286.75,435.25 287.57,435.32 288.38,435.45 289.20,435.13 290.02,435.16 290.83,435.18 291.65,435.47 292.47,435.66 293.28,435.41 294.10,435.59 294.92,435.63 295.73,435.31 296.55,435.25 297.37,435.01 298.18,435.31 299.00,435.37 299.82,435.55 300.63,435.58 301.45,435.52 302.27,435.52 303.08,435.42 303.90,435.07" fill="none" stroke="#f27474" stroke-width="5.6" stroke-linejoin="round"/>
<polyline points="57.90,441.34 58.52,445.99 59.13,450.17 59.74,454.13 60.36,457.12 60.98,459.81 61.59,462.19 62.20,464.66 62.82,466.35 63.44,467.80 64.05,469.53 64.66,470.58 65.28,471.92 65.89,472.94 66.51,473.90 67.12,474.77 67.74,475.32 68.36,475.95 68.97,476.13 69.58,476.78 70.20,477.17 70.81,477.65 71.43,477.74 72.05,478.25 72.66,478.73 73.28,478.68 73.89,478.88 74.50,479.20 75.12,479.60 75.73,479.62 76.35,479.67 76.97,479.81 77.58,480.14 78.19,480.46 78.81,480.52 79.42,480.61 80.04,480.73 80.66,480.83 81.27,480.97 81.88,480.94 82.50,481.18 83.11,481.60 83.73,481.60 84.34,481.81 84.96,481.69 85.58,481.92 86.19,482.13 86.80,482.25 87.42,482.27 88.03,482.31 88.65,482.45 89.27,482.70 89.88,482.50 90.50,482.40 91.11,482.70 91.72,482.99 92.34,482.98 92.95,482.98 93.57,483.15 94.19,483.01 94.80,483.00 95.41,483.00 96.03,483.22 96.64,483.23 97.26,483.23 97.88,483.48 98.49,483.78 99.10,483.65 99.72,483.80 100.33,483.77 100.95,484.00 101.56,484.01 102.18,483.89 102.79,483.82 103.41,483.71 104.03,483.90 104.64,483.98 105.25,483.94 105.87,484.04 106.48,484.09 107.10,484.37 107.72,484.23 108.33,484.59 108.94,484.56 109.56,484.62 110.17,484.60 110.79,484.80 111.41,484.92 112.02,484.87 112.63,484.82 113.25,484.93 113.86,485.08 114.48,484.95 115.09,485.06 115.71,485.25 116.33,485.12 116.94,484.95 117.56,484.88 118.17,485.09 118.78,485.20 119.40,485.41 120.01,485.49 120.63,485.25 121.25,485.10 121.86,485.07 122.47,485.03 123.09,485.27 123.70,485.50 124.32,485.65 124.94,485.43 125.55,485.62 126.16,485.47 126.78,485.45 127.40,485.60 128.01,485.37 128.62,485.26 129.24,485.58 129.85,485.50 130.47,485.49 131.09,485.61 131.70,485.73 132.31,485.48 132.93,485.51 133.54,485.59 134.16,485.66 134.78,485.57 135.39,485.72 136.00,485.99 136.62,485.87 137.24,485.89 137.85,485.70 138.47,485.67 139.08,485.86 139.69,485.70 140.31,486.00 140.92,486.18 141.54,485.89 142.16,486.15 142.77,486.02 143.38,486.16 144.00,486.23 144.62,486.05 145.23,486.14 145.84,486.19 146.46,486.29 147.07,486.09 147.69,486.23 148.31,486.41 148.92,486.37 149.53,486.29 150.15,486.04 150.77,486.10 151.38,486.06 152.00,486.23 152.61,486.31 153.22,486.30 153.84,486.11 154.45,486.24 155.07,486.31 155.69,486.12 156.30,486.38 156.91,486.41 157.53,486.17 158.14,486.44 158.76,486.20 159.38,486.17 159.99,486.34 160.60,486.38 161.22,486.39 161.84,486.44 162.45,486.38 163.06,486.28 163.68,486.16 164.30,486.04 164.91,486.30 165.53,486.47 166.14,486.45 166.75,486.55 167.37,486.42 167.99,486.30 168.60,486.30 169.22,486.54 169.83,486.26 170.44,486.35 171.06,486.27 171.67,486.48 172.29,486.40 172.91,486.34 173.52,486.35 174.13,486.43 174.75,486.58 175.37,486.47 175.98,486.65 176.59,486.39 177.21,486.32 177.82,486.21 178.44,486.15 179.06,486.45 179.67,486.59 180.28,486.40 180.90,486.30 181.52,484.38 182.13,483.04 182.75,481.98 183.36,481.09 183.97,480.32 184.59,479.50 185.20,479.04 185.82,478.57 186.44,478.38 187.05,478.23 187.67,477.91 188.28,477.70 188.90,477.82 189.51,477.47 190.12,477.64 190.74,477.75 191.35,477.82 191.97,477.56 192.59,477.48 193.20,477.44 193.81,477.43 194.43,477.57 195.05,477.50 195.66,477.25 196.28,477.39 196.89,477.26 197.50,477.24 198.12,477.27 198.74,476.93 199.35,477.10 199.97,477.13 200.58,477.06 201.20,477.02 201.81,476.96 202.43,476.78 203.04,476.84 203.66,476.61 204.27,476.71 204.88,476.82 205.50,476.77 206.12,476.80 206.73,476.99 207.34,477.06 207.96,476.71 208.57,476.83 209.19,476.80 209.81,476.49 210.42,476.46 211.03,476.37 211.65,476.23 212.27,476.37 212.88,476.63 213.50,476.47 214.11,476.63 214.73,476.63 215.34,476.33 215.96,476.52 216.57,476.49 217.19,476.62 217.80,476.57 218.42,476.55 219.03,476.33 219.65,476.42 220.26,476.53 220.88,476.54 221.49,476.32 222.10,476.36 222.72,474.78 223.34,472.58 223.95,470.72 224.57,469.20 225.18,467.97 225.79,466.89 226.41,466.13 227.03,465.52 227.64,464.86 228.26,464.23 228.87,463.81 229.48,463.25 230.10,462.89 230.72,462.72 231.33,462.34 231.95,461.95 232.56,462.01 233.18,461.89 233.79,461.59 234.41,461.39 235.02,461.31 235.63,461.27 236.25,461.03 236.87,460.76 237.48,460.70 238.09,460.92 238.71,460.72 239.32,460.75 239.94,460.62 240.56,460.55 241.17,460.48 241.79,460.55 242.40,460.46 243.01,460.34 243.63,460.31 244.25,460.32 244.86,460.48 245.48,460.35 246.09,460.26 246.71,460.42 247.32,460.48 247.94,460.66 248.55,460.44 249.17,460.49 249.78,460.51 250.40,460.34 251.01,460.71 251.62,460.54 252.24,460.39 252.85,460.49 253.47,460.40 254.09,460.57 254.70,460.53 255.32,460.39 255.93,460.29 256.54,460.56 257.16,460.49 257.77,460.70 258.39,460.66 259.00,460.87 259.62,460.67 260.23,460.53 260.85,460.47 261.46,460.70 262.08,459.89 262.69,457.45 263.31,455.23 263.93,453.64 264.54,452.34 265.15,450.94 265.77,449.45 266.38,448.26 267.00,447.30 267.62,446.53 268.23,445.78 268.84,445.16 269.46,444.93 270.07,444.75 270.69,444.16 271.31,444.10 271.92,443.70 272.54,443.55 273.15,443.44 273.76,443.29 274.38,442.69 275.00,442.43 275.61,442.37 276.23,442.46 276.84,442.04 277.45,441.86 278.07,442.00 278.69,441.68 279.30,441.61 279.92,441.52 280.53,441.61 281.14,441.76 281.76,441.45 282.38,441.54 282.99,441.56 283.60,441.61 284.22,441.48 284.83,441.58 285.45,441.34 286.06,441.22 286.68,441.04 287.29,441.21 287.91,441.14 288.52,440.98 289.14,440.84 289.75,441.02 290.37,441.05 290.98,441.11 291.60,440.97 292.21,440.93 292.83,440.73 293.44,440.89 294.06,440.63 294.68,440.69 295.29,440.86 295.90,440.90 296.52,440.63 297.13,440.54 297.75,440.78 298.37,440.80 298.98,440.92 299.59,440.98 300.21,440.79 300.82,440.89 301.44,440.86 302.06,440.64 302.67,440.52 303.29,440.30 303.90,440.33" fill="none" stroke="#4f8de6" stroke-width="5.3" stroke-linejoin="round"/>
<polyline points="58.92,517.15 59.74,516.74 60.56,516.80 61.37,516.53 62.19,516.35 63.01,516.60 63.82,516.46 64.64,516.25 65.46,516.19 66.27,516.45 67.09,516.55 67.91,516.22 68.72,516.17 69.54,516.59 70.36,516.34 71.17,516.40 71.99,516.33 72.81,516.51 73.62,516.48 74.44,516.57 75.26,516.45 76.07,516.14 76.89,515.96 77.71,515.78 78.52,516.14 79.34,515.88 80.16,515.66 80.97,516.13 81.79,515.89 82.61,516.18 83.42,515.82 84.24,515.85 85.06,515.70 85.87,515.99 86.69,516.01 87.51,516.02 88.32,516.09 89.14,516.19 89.96,515.91 90.77,515.90 91.59,515.79 92.40,515.51 93.22,515.81 94.04,515.81 94.85,515.94 95.67,515.63 96.49,515.66 97.30,515.62 98.12,515.76 98.94,515.42 99.75,515.40 100.57,515.47 101.39,515.25 102.20,515.43 103.02,515.64 103.84,515.55 104.65,515.65 105.47,515.68 106.29,515.44 107.10,515.40 107.92,515.78 108.74,515.58 109.55,515.53 110.37,515.29 111.19,515.24 112.00,515.19 112.82,515.64 113.64,515.77 114.45,515.94 115.27,516.10 116.09,515.97 116.90,516.10 117.72,515.93 118.54,515.77 119.35,516.02 120.17,516.14 120.99,516.25 121.80,516.02 122.62,516.08 123.44,515.90 124.25,516.18 125.07,516.30 125.88,515.97 126.70,516.21 127.52,515.88 128.33,515.66 129.15,515.94 129.97,515.84 130.78,515.93 131.60,516.08 132.42,515.79 133.23,516.09 134.05,515.97 134.87,516.02 135.68,516.00 136.50,516.26 137.32,516.41 138.13,516.22 138.95,516.01 139.77,516.04 140.58,516.13 141.40,515.99 142.22,515.97 143.03,516.36 143.85,516.55 144.67,516.84 145.48,517.01 146.30,517.06 147.12,516.78 147.93,516.50 148.75,516.46 149.57,516.55 150.38,516.64 151.20,516.72 152.02,516.66 152.83,516.95 153.65,516.77 154.47,516.79 155.28,517.08 156.10,517.20 156.91,516.96 157.73,516.80 158.55,517.08 159.36,516.74 160.18,516.64 161.00,516.85 161.81,516.98 162.63,516.82 163.45,516.68 164.26,516.70 165.08,517.08 165.90,517.11 166.71,517.45 167.53,517.53 168.35,517.70 169.16,517.21 169.98,517.04 170.80,516.85 171.61,517.01 172.43,517.05 173.25,516.90 174.06,517.13 174.88,516.98 175.70,517.04 176.51,517.04 177.33,517.40 178.15,517.36 178.96,517.24 179.78,517.04 180.60,517.18 181.41,517.39 182.23,517.54 183.05,517.77 183.86,517.84 184.68,517.53 185.50,517.29 186.31,517.56 187.13,517.73 187.95,517.64 188.76,517.81 189.58,517.72 190.39,517.51 191.21,517.32 192.03,517.13 192.84,517.42 193.66,517.74 194.48,517.93 195.29,517.75 196.11,517.78 196.93,517.97 197.74,518.00 198.56,517.89 199.38,517.71 200.19,517.68 201.01,517.44 201.83,517.32 202.64,517.57 203.46,517.91 204.28,517.81 205.09,517.67 205.91,517.56 206.73,517.56 207.54,517.79 208.36,517.69 209.18,517.96 209.99,517.60 210.81,517.50 211.63,517.58 212.44,517.55 213.26,517.82 214.08,517.95 214.89,518.09 215.71,517.96 216.53,517.53 217.34,517.63 218.16,517.67 218.98,517.66 219.79,517.52 220.61,517.71 221.43,517.95 222.24,517.57 223.06,517.71 223.87,517.61 224.69,517.64 225.51,517.90 226.32,518.08 227.14,517.98 227.96,517.65 228.77,517.92 229.59,517.60 230.41,517.56 231.22,517.81 232.04,517.63 232.86,517.50 233.67,517.86 234.49,518.05 235.31,517.76 236.12,517.65 236.94,517.52 237.76,517.35 238.57,517.34 239.39,517.79 240.21,517.47 241.02,517.39 241.84,517.32 242.66,517.21 243.47,517.43 244.29,517.69 245.11,517.89 245.92,517.87 246.74,517.98 247.56,517.53 248.37,517.45 249.19,517.84 250.01,517.49 250.82,517.42 251.64,517.52 252.46,517.44 253.27,517.57 254.09,517.33 254.91,517.31 255.72,517.76 256.54,517.49 257.35,517.83 258.17,517.55 258.99,517.91 259.80,517.91 260.62,517.89 261.44,517.57 262.25,517.33 263.07,517.64 263.89,517.45 264.70,517.35 265.52,517.70 266.34,517.92 267.15,517.52 267.97,517.88 268.79,517.80 269.60,517.67 270.42,517.42 271.24,517.46 272.05,517.86 272.87,517.63 273.69,517.42 274.50,517.31 275.32,517.23 276.14,517.33 276.95,517.75 277.77,517.44 278.59,517.35 279.40,517.77 280.22,518.04 281.04,518.17 281.85,517.59 282.67,517.15 283.49,517.18 284.30,516.81 285.12,516.66 285.94,516.25 286.75,515.77 287.57,515.65 288.38,515.78 289.20,515.82 290.02,515.66 290.83,515.47 291.65,515.37 292.47,515.22 293.28,515.16 294.10,515.29 294.92,514.94 295.73,514.97 296.55,515.17 297.37,515.22 298.18,514.80 299.00,515.05 299.82,515.10 300.63,514.68 301.45,514.51 302.27,514.36 303.08,514.18 303.90,514.65" fill="none" stroke="#eb3d3d" stroke-width="5.6" stroke-linejoin="round"/>
<polyline points="57.90,520.26 58.52,522.88 59.13,526.61 59.74,530.98 60.36,535.94 60.98,540.51 61.59,544.73 62.20,548.24 62.82,551.19 63.44,553.81 64.05,555.61 64.66,557.36 65.28,558.69 65.89,559.60 66.51,560.56 67.12,561.14 67.74,561.70 68.36,562.05 68.97,562.30 69.58,562.53 70.20,562.84 70.81,563.24 71.43,563.49 72.05,563.63 72.66,563.74 73.28,563.56 73.89,563.84 74.50,563.68 75.12,563.55 75.73,563.70 76.35,563.93 76.97,563.89 77.58,564.05 78.19,563.99 78.81,564.32 79.42,564.28 80.04,564.30 80.66,564.37 81.27,564.60 81.88,564.81 82.50,564.73 83.11,564.67 83.73,564.74 84.34,564.54 84.96,564.63 85.58,564.92 86.19,565.06 86.80,564.81 87.42,565.09 88.03,565.04 88.65,565.33 89.27,565.20 89.88,565.08 90.50,565.21 91.11,565.46 91.72,565.40 92.34,565.60 92.95,565.66 93.57,565.54 94.19,565.46 94.80,565.54 95.41,565.55 96.03,565.56 96.64,565.73 97.26,565.95 97.88,565.94 98.49,565.74 99.10,565.69 99.72,565.75 100.33,565.92 100.95,565.80 101.56,565.72 102.18,565.82 102.79,565.86 103.41,565.78 104.03,566.01 104.64,566.34 105.25,566.34 105.87,566.46 106.48,566.59 107.10,566.68 107.72,566.78 108.33,566.62 108.94,566.66 109.56,566.42 110.17,566.68 110.79,566.59 111.41,566.60 112.02,566.83 112.63,566.67 113.25,566.55 113.86,566.81 114.48,566.85 115.09,566.64 115.71,566.50 116.33,566.60 116.94,566.50 117.56,566.87 118.17,566.76 118.78,566.76 119.40,566.82 120.01,566.93 120.63,566.97 121.25,567.10 121.86,567.19 122.47,567.15 123.09,566.97 123.70,567.32 124.32,567.38 124.94,567.12 125.55,567.17 126.16,567.36 126.78,567.59 127.40,567.27 128.01,567.08 128.62,567.22 129.24,567.28 129.85,567.55 130.47,567.68 131.09,567.52 131.70,567.48 132.31,567.55 132.93,567.75 133.54,567.53 134.16,567.52 134.78,567.37 135.39,567.57 136.00,567.38 136.62,567.74 137.24,567.74 137.85,567.78 138.47,567.57 139.08,567.53 139.69,567.64 140.31,567.90 140.92,567.89 141.54,567.77 142.16,568.06 142.77,568.07 143.38,568.02 144.00,567.84 144.62,567.79 145.23,568.07 145.84,567.86 146.46,567.94 147.07,568.04 147.69,567.98 148.31,568.15 148.92,568.33 149.53,568.41 150.15,568.40 150.77,568.14 151.38,567.93 152.00,568.01 152.61,568.00 153.22,567.95 153.84,568.26 154.45,568.11 155.07,568.34 155.69,568.53 156.30,568.24 156.91,568.48 157.53,568.36 158.14,568.21 158.76,568.13 159.38,568.01 159.99,568.19 160.60,568.23 161.22,568.50 161.84,568.64 162.45,568.34 163.06,568.36 163.68,568.36 164.30,568.27 164.91,568.26 165.53,568.27 166.14,568.50 166.75,568.45 167.37,568.32 167.99,568.31 168.60,568.42 169.22,568.55 169.83,568.47 170.44,568.66 171.06,568.53 171.67,568.69 172.29,568.75 172.91,568.58 173.52,568.78 174.13,568.72 174.75,568.76 175.37,568.82 175.98,568.88 176.59,568.82 177.21,568.60 177.82,568.85 178.44,569.03 179.06,568.96 179.67,567.74 180.28,566.25 180.90,565.57 181.52,564.96 182.13,564.32 182.75,564.21 183.36,564.17 183.97,563.80 184.59,563.89 185.20,563.66 185.82,563.37 186.44,563.46 187.05,563.32 187.67,563.42 188.28,563.39 188.90,563.13 189.51,563.19 190.12,563.38 190.74,563.29 191.35,563.26 191.97,563.40 192.59,563.26 193.20,563.20 193.81,563.20 194.43,563.32 195.05,563.06 195.66,562.86 196.28,563.08 196.89,563.08 197.50,562.96 198.12,563.17 198.74,563.28 199.35,563.16 199.97,563.34 200.58,562.73 201.20,561.10 201.81,559.62 202.43,558.38 203.04,557.82 203.66,557.37 204.27,556.80 204.88,556.45 205.50,556.22 206.12,555.89 206.73,555.88 207.34,555.77 207.96,555.58 208.57,555.31 209.19,555.35 209.81,555.23 210.42,555.35 211.03,555.12 211.65,555.09 212.27,554.97 212.88,554.99 213.50,555.08 214.11,554.88 214.73,554.74 215.34,554.86 215.96,554.78 216.57,554.88 217.19,554.75 217.80,554.64 218.42,554.79 219.03,555.06 219.65,555.17 220.26,555.04 220.88,554.91 221.49,554.69 222.10,554.03 222.72,552.39 223.34,551.42 223.95,550.19 224.57,549.70 225.18,549.02 225.79,548.50 226.41,548.02 227.03,548.02 227.64,547.58 228.26,547.45 228.87,547.25 229.48,546.93 230.10,546.70 230.72,546.91 231.33,546.88 231.95,546.79 232.56,546.79 233.18,546.35 233.79,546.37 234.41,546.37 235.02,546.08 235.63,546.00 236.25,546.17 236.87,545.92 237.48,545.96 238.09,545.66 238.71,545.71 239.32,545.51 239.94,545.48 240.56,545.37 241.17,545.52 241.79,545.52 242.40,545.41 243.01,542.50 243.63,540.37 244.25,539.11 244.86,537.96 245.48,537.35 246.09,536.94 246.71,536.54 247.32,536.06 247.94,535.81 248.55,535.86 249.17,535.63 249.78,535.75 250.40,535.65 251.01,535.80 251.62,535.80 252.24,535.71 252.85,535.46 253.47,535.14 254.09,535.19 254.70,535.29 255.32,535.40 255.93,535.09 256.54,534.87 257.16,535.13 257.77,535.13 258.39,534.98 259.00,535.00 259.62,534.70 260.23,534.70 260.85,534.74 261.46,534.71 262.08,534.04 262.69,532.70 263.31,531.88 263.93,531.29 264.54,530.38 265.15,529.64 265.77,529.13 266.38,529.08 267.00,528.76 267.62,528.54 268.23,528.63 268.84,528.44 269.46,528.07 270.07,528.00 270.69,527.55 271.31,527.39 271.92,527.45 272.54,527.18 273.15,526.92 273.76,526.97 274.38,526.87 275.00,527.09 275.61,526.74 276.23,526.86 276.84,526.69 277.45,526.77 278.07,526.59 278.69,526.58 279.30,526.37 279.92,526.17 280.53,526.14 281.14,526.26 281.76,526.07 282.38,525.88 282.99,525.83 283.60,525.62 284.22,525.58 284.83,525.65 285.45,525.65 286.06,525.64 286.68,525.45 287.29,525.18 287.91,525.01 288.52,525.03 289.14,524.94 289.75,525.05 290.37,524.93 290.98,525.07 291.60,525.04 292.21,525.02 292.83,525.02 293.44,524.88 294.06,524.72 294.68,524.55 295.29,524.30 295.90,524.49 296.52,524.42 297.13,524.16 297.75,524.39 298.37,524.31 298.98,524.26 299.59,524.11 300.21,523.84 300.82,524.09 301.44,523.79 302.06,523.69 302.67,523.92 303.29,523.57 303.90,523.54" fill="none" stroke="#1d64d9" stroke-width="5.4" stroke-linejoin="round"/>
</g>
<path d="M57.9 401.8 H303.9 V599.4 H57.9 Z M57.9 500.2 H303.9" fill="none" stroke="#000" stroke-width="1.4"/>
<line x1="54.1" y1="401.79" x2="57.9" y2="401.79" stroke="#000" stroke-width="1.3"/>
<line x1="303.9" y1="401.79" x2="307.7" y2="401.79" stroke="#000" stroke-width="1.3"/>
<text x="50.9" y="405.89" font-size="11.5" text-anchor="end" fill="#000" >3</text>
<text x="310" y="405.89" font-size="11.5" text-anchor="start" fill="#000" >9</text>
<line x1="55.9" y1="421.55" x2="57.9" y2="421.55" stroke="#000" stroke-width="1.3"/>
<line x1="303.9" y1="421.55" x2="305.9" y2="421.55" stroke="#000" stroke-width="1.3"/>
<line x1="54.1" y1="441.30" x2="57.9" y2="441.30" stroke="#000" stroke-width="1.3"/>
<line x1="303.9" y1="441.30" x2="307.7" y2="441.30" stroke="#000" stroke-width="1.3"/>
<text x="50.9" y="445.4" font-size="11.5" text-anchor="end" fill="#000" >0</text>
<text x="310" y="445.4" font-size="11.5" text-anchor="start" fill="#000" >6</text>
<line x1="55.9" y1="461.06" x2="57.9" y2="461.06" stroke="#000" stroke-width="1.3"/>
<line x1="303.9" y1="461.06" x2="305.9" y2="461.06" stroke="#000" stroke-width="1.3"/>
<line x1="54.1" y1="480.81" x2="57.9" y2="480.81" stroke="#000" stroke-width="1.3"/>
<line x1="303.9" y1="480.81" x2="307.7" y2="480.81" stroke="#000" stroke-width="1.3"/>
<text x="50.9" y="484.91" font-size="11.5" text-anchor="end" fill="#000" >−3</text>
<text x="310" y="484.91" font-size="11.5" text-anchor="start" fill="#000" >3</text>
<line x1="55.9" y1="500.56" x2="57.9" y2="500.56" stroke="#000" stroke-width="1.3"/>
<line x1="303.9" y1="500.56" x2="305.9" y2="500.56" stroke="#000" stroke-width="1.3"/>
<line x1="54.1" y1="520.32" x2="57.9" y2="520.32" stroke="#000" stroke-width="1.3"/>
<line x1="303.9" y1="520.32" x2="307.7" y2="520.32" stroke="#000" stroke-width="1.3"/>
<text x="50.9" y="524.42" font-size="11.5" text-anchor="end" fill="#000" >−6</text>
<text x="310" y="524.42" font-size="11.5" text-anchor="start" fill="#000" >0</text>
<line x1="55.9" y1="540.08" x2="57.9" y2="540.08" stroke="#000" stroke-width="1.3"/>
<line x1="303.9" y1="540.08" x2="305.9" y2="540.08" stroke="#000" stroke-width="1.3"/>
<line x1="54.1" y1="559.83" x2="57.9" y2="559.83" stroke="#000" stroke-width="1.3"/>
<line x1="303.9" y1="559.83" x2="307.7" y2="559.83" stroke="#000" stroke-width="1.3"/>
<text x="50.9" y="563.93" font-size="11.5" text-anchor="end" fill="#000" >−9</text>
<text x="310" y="563.93" font-size="11.5" text-anchor="start" fill="#000" >−3</text>
<line x1="55.9" y1="579.59" x2="57.9" y2="579.59" stroke="#000" stroke-width="1.3"/>
<line x1="303.9" y1="579.59" x2="305.9" y2="579.59" stroke="#000" stroke-width="1.3"/>
<line x1="54.1" y1="599.34" x2="57.9" y2="599.34" stroke="#000" stroke-width="1.3"/>
<line x1="303.9" y1="599.34" x2="307.7" y2="599.34" stroke="#000" stroke-width="1.3"/>
<text x="50.9" y="603.44" font-size="11.5" text-anchor="end" fill="#000" >−12</text>
<text x="310" y="603.44" font-size="11.5" text-anchor="start" fill="#000" >−6</text>
<line x1="57.90" y1="599.4" x2="57.90" y2="603.1999999999999" stroke="#000" stroke-width="1.3"/>
<text x="57.9" y="616.3" font-size="12" text-anchor="middle" fill="#000" >0</text>
<line x1="78.40" y1="599.4" x2="78.40" y2="601.6" stroke="#000" stroke-width="1.3"/>
<line x1="98.90" y1="599.4" x2="98.90" y2="603.1999999999999" stroke="#000" stroke-width="1.3"/>
<text x="98.9" y="616.3" font-size="12" text-anchor="middle" fill="#000" >2</text>
<line x1="119.40" y1="599.4" x2="119.40" y2="601.6" stroke="#000" stroke-width="1.3"/>
<line x1="139.90" y1="599.4" x2="139.90" y2="603.1999999999999" stroke="#000" stroke-width="1.3"/>
<text x="139.9" y="616.3" font-size="12" text-anchor="middle" fill="#000" >4</text>
<line x1="160.40" y1="599.4" x2="160.40" y2="601.6" stroke="#000" stroke-width="1.3"/>
<line x1="180.90" y1="599.4" x2="180.90" y2="603.1999999999999" stroke="#000" stroke-width="1.3"/>
<text x="180.9" y="616.3" font-size="12" text-anchor="middle" fill="#000" >6</text>
<line x1="201.40" y1="599.4" x2="201.40" y2="601.6" stroke="#000" stroke-width="1.3"/>
<line x1="221.90" y1="599.4" x2="221.90" y2="603.1999999999999" stroke="#000" stroke-width="1.3"/>
<text x="221.9" y="616.3" font-size="12" text-anchor="middle" fill="#000" >8</text>
<line x1="242.40" y1="599.4" x2="242.40" y2="601.6" stroke="#000" stroke-width="1.3"/>
<line x1="262.90" y1="599.4" x2="262.90" y2="603.1999999999999" stroke="#000" stroke-width="1.3"/>
<text x="262.9" y="616.3" font-size="12" text-anchor="middle" fill="#000" >10</text>
<line x1="283.40" y1="599.4" x2="283.40" y2="601.6" stroke="#000" stroke-width="1.3"/>
<line x1="303.90" y1="599.4" x2="303.90" y2="603.1999999999999" stroke="#000" stroke-width="1.3"/>
<text x="303.9" y="616.3" font-size="12" text-anchor="middle" fill="#000" >12</text>
<text x="181.4" y="627.6" font-size="13" text-anchor="middle" fill="#000" >Time (10<tspan dy="-4.5" font-size="8.5">3</tspan><tspan dy="4.5"> s)</tspan></text>
<text transform="translate(34.9,501) rotate(-90)" font-size="13" text-anchor="middle" fill="#000">Δ<tspan font-style="italic">T</tspan> of water for single-unit (K)</text>
<text transform="translate(334,500.9) rotate(-90)" font-size="13" text-anchor="middle" fill="#000">Δ<tspan font-style="italic">T</tspan> of water for double-unit (K)</text>
<line x1="78" y1="424.6" x2="66.4" y2="424.6" stroke="#000" stroke-width="1.3"/>
<path d="M63.4 424.6 L70.6 421.1 L68.4 424.6 L70.6 428.1 Z" fill="#000"/>
<text x="79.3" y="427.7" font-size="9.5" text-anchor="start" fill="#111" >Hot end</text>
<line x1="77" y1="492.7" x2="65.8" y2="492.7" stroke="#000" stroke-width="1.3"/>
<path d="M62.8 492.7 L70 489.2 L67.8 492.7 L70 496.2 Z" fill="#000"/>
<text x="79.3" y="496.3" font-size="9.5" text-anchor="start" fill="#111" >Cold end</text>
<text x="241.7" y="412.6" font-size="9.5" text-anchor="middle" fill="#111" >Single-unit</text>
<line x1="152.9" y1="442" x2="152.9" y2="480" stroke="#000" stroke-width="1.3"/>
<path d="M152.9 439 L156.4 446.2 L152.9 444 L149.4 446.2 Z" fill="#000"/>
<path d="M152.9 483 L149.4 475.8 L152.9 478 L156.4 475.8 Z" fill="#000"/>
<text transform="translate(144.3,491.1) rotate(-90)" font-size="10" fill="#111">3.5 K / 0 W</text>
<line x1="216.2" y1="440.8" x2="216.2" y2="473.5" stroke="#000" stroke-width="1.3"/>
<path d="M216.2 437.8 L219.7 445 L216.2 442.8 L212.7 445 Z" fill="#000"/>
<path d="M216.2 476.5 L212.7 469.3 L216.2 471.5 L219.7 469.3 Z" fill="#000"/>
<text transform="translate(208,492.9) rotate(-90)" font-size="9.8" fill="#111">2.9 K / 0.5 W</text>
<line x1="259.7" y1="439" x2="259.7" y2="456.1" stroke="#000" stroke-width="1.3"/>
<path d="M259.7 436 L263.2 443.2 L259.7 441 L256.2 443.2 Z" fill="#000"/>
<path d="M259.7 459.1 L256.2 451.9 L259.7 454.1 L263.2 451.9 Z" fill="#000"/>
<text transform="translate(251.9,486) rotate(-90)" font-size="9.8" fill="#111">1.7 K / 1.5 W</text>
<line x1="298.8" y1="420.5" x2="298.8" y2="432.5" stroke="#000" stroke-width="1.3"/>
<path d="M298.8 435.5 L295.3 428.3 L298.8 430.5 L302.3 428.3 Z" fill="#000"/>
<line x1="298.8" y1="456.8" x2="298.8" y2="444.3" stroke="#000" stroke-width="1.3"/>
<path d="M298.8 441.3 L302.3 448.5 L298.8 446.3 L295.3 448.5 Z" fill="#000"/>
<text transform="translate(289.5,487.6) rotate(-90)" font-size="9.8" fill="#111">0.5 K / 2.5 W</text>
<text x="121.3" y="511.2" font-size="9.5" text-anchor="start" fill="#111" >Hot end</text>
<line x1="158.4" y1="507.7" x2="169.7" y2="507.7" stroke="#000" stroke-width="1.3"/>
<path d="M172.7 507.7 L165.5 511.2 L167.7 507.7 L165.5 504.2 Z" fill="#000"/>
<text x="117.3" y="582.8" font-size="9.5" text-anchor="start" fill="#111" >Cold end</text>
<line x1="157" y1="579.2" x2="168.8" y2="579.2" stroke="#000" stroke-width="1.3"/>
<path d="M171.8 579.2 L164.6 582.7 L166.8 579.2 L164.6 575.7 Z" fill="#000"/>
<text x="241.5" y="592.6" font-size="9.5" text-anchor="middle" fill="#111" >Double-unit</text>
<line x1="106.6" y1="517.6" x2="106.6" y2="564.5" stroke="#000" stroke-width="1.3"/>
<path d="M106.6 514.6 L110.1 521.8 L106.6 519.6 L103.1 521.8 Z" fill="#000"/>
<path d="M106.6 567.5 L103.1 560.3 L106.6 562.5 L110.1 560.3 Z" fill="#000"/>
<text transform="translate(97.4,571.6) rotate(-90)" font-size="10" fill="#111">3.7 K / 0 W</text>
<line x1="198.2" y1="523.1" x2="198.2" y2="560.6" stroke="#000" stroke-width="1.3"/>
<path d="M198.2 520.1 L201.7 527.3 L198.2 525.1 L194.7 527.3 Z" fill="#000"/>
<path d="M198.2 563.6 L194.7 556.4 L198.2 558.6 L201.7 556.4 Z" fill="#000"/>
<text transform="translate(190.1,576.2) rotate(-90)" font-size="9.8" fill="#111">3.4 K / 0.5 W</text>
<line x1="219.4" y1="523.1" x2="219.4" y2="551.8" stroke="#000" stroke-width="1.3"/>
<path d="M219.4 520.1 L222.9 527.3 L219.4 525.1 L215.9 527.3 Z" fill="#000"/>
<path d="M219.4 554.8 L215.9 547.6 L219.4 549.8 L222.9 547.6 Z" fill="#000"/>
<text transform="translate(211.5,576.2) rotate(-90)" font-size="9.8" fill="#111">2.7 K / 1.5 W</text>
<line x1="240.4" y1="521.2" x2="240.4" y2="541.1" stroke="#000" stroke-width="1.3"/>
<path d="M240.4 518.2 L243.9 525.4 L240.4 523.2 L236.9 525.4 Z" fill="#000"/>
<path d="M240.4 544.1 L236.9 536.9 L240.4 539.1 L243.9 536.9 Z" fill="#000"/>
<text transform="translate(232.9,575.6) rotate(-90)" font-size="9.8" fill="#111">2.0 K / 2.5 W</text>
<line x1="260" y1="523.8" x2="260" y2="530.4" stroke="#000" stroke-width="1.3"/>
<path d="M260 520.8 L263.2 526.6 L260 524.4 L256.8 526.6 Z" fill="#000"/>
<path d="M260 533.4 L256.8 527.6 L260 529.8 L263.2 527.6 Z" fill="#000"/>
<text transform="translate(252.5,573.7) rotate(-90)" font-size="9.8" fill="#111">1.0 K / 4.5 W</text>
<line x1="298.8" y1="503" x2="298.8" y2="513.5" stroke="#000" stroke-width="1.3"/>
<path d="M298.8 516.5 L295.3 509.3 L298.8 511.5 L302.3 509.3 Z" fill="#000"/>
<line x1="298.8" y1="534.5" x2="298.8" y2="524.5" stroke="#000" stroke-width="1.3"/>
<path d="M298.8 521.5 L302.3 528.7 L298.8 526.5 L295.3 528.7 Z" fill="#000"/>
<text transform="translate(291.2,570.3) rotate(-90)" font-size="9.8" fill="#111">0.3 K / 5.0 W</text>
<text x="347.2" y="409.2" font-size="20" text-anchor="start" fill="#000" >c</text>
<line x1="395.90" y1="415.68" x2="603.47" y2="590.60" stroke="#000" stroke-width="1.3"/>
<line x1="395.90" y1="497.97" x2="592.25" y2="590.60" stroke="#000" stroke-width="1.3"/>
<line x1="395.90" y1="469.06" x2="603.47" y2="590.60" stroke="#ee3333" stroke-width="1.3"/>
<line x1="395.90" y1="528.57" x2="592.25" y2="590.60" stroke="#ee3333" stroke-width="1.3"/>
<line x1="416.93" y1="556.00" x2="447.80" y2="556.00" stroke="#0000ff" stroke-width="1.5"/>
<line x1="456.20" y1="556.00" x2="503.90" y2="556.00" stroke="#0000ff" stroke-width="1.5"/>
<line x1="512.30" y1="556.00" x2="543.17" y2="556.00" stroke="#0000ff" stroke-width="1.5"/>
<line x1="551.57" y1="556.00" x2="582.44" y2="556.00" stroke="#0000ff" stroke-width="1.5"/>
<line x1="590.84" y1="556.00" x2="599.27" y2="556.00" stroke="#0000ff" stroke-width="1.5"/>
<line x1="428.15" y1="566.12" x2="487.07" y2="566.12" stroke="#0000ff" stroke-width="1.5"/>
<line x1="495.47" y1="566.12" x2="554.39" y2="566.12" stroke="#0000ff" stroke-width="1.5"/>
<line x1="562.79" y1="566.12" x2="588.05" y2="566.12" stroke="#0000ff" stroke-width="1.5"/>
<circle cx="412.73" cy="437.62" r="2.95" fill="#000"/>
<circle cx="452.00" cy="453.03" r="2.95" fill="#000"/>
<circle cx="508.10" cy="514.22" r="2.95" fill="#000"/>
<circle cx="547.37" cy="544.81" r="2.95" fill="#000"/>
<circle cx="586.64" cy="575.20" r="2.95" fill="#000"/>
<circle cx="412.73" cy="485.10" r="2.95" fill="#ff0000"/>
<circle cx="452.00" cy="495.44" r="2.95" fill="#ff0000"/>
<circle cx="508.10" cy="537.85" r="2.95" fill="#ff0000"/>
<circle cx="547.37" cy="559.16" r="2.95" fill="#ff0000"/>
<circle cx="586.64" cy="580.05" r="2.95" fill="#ff0000"/>
<circle cx="603.47" cy="590.60" r="2.95" fill="#ff0000"/>
<circle cx="412.73" cy="556.00" r="2.95" fill="#0000ff"/>
<circle cx="452.00" cy="556.00" r="2.95" fill="#0000ff"/>
<circle cx="508.10" cy="556.00" r="2.95" fill="#0000ff"/>
<circle cx="547.37" cy="556.00" r="2.95" fill="#0000ff"/>
<circle cx="586.64" cy="556.00" r="2.95" fill="#0000ff"/>
<circle cx="603.47" cy="556.00" r="2.95" fill="#0000ff"/>
<rect x="421.40" y="508.93" width="5.1" height="5.1" fill="#404040"/>
<rect x="488.72" y="540.79" width="5.1" height="5.1" fill="#404040"/>
<rect x="556.04" y="572.01" width="5.1" height="5.1" fill="#404040"/>
<rect x="421.40" y="535.30" width="5.1" height="5.1" fill="#e84a4a"/>
<rect x="488.72" y="556.61" width="5.1" height="5.1" fill="#e84a4a"/>
<rect x="556.04" y="577.50" width="5.1" height="5.1" fill="#e84a4a"/>
<rect x="589.70" y="588.05" width="5.1" height="5.1" fill="#e84a4a"/>
<rect x="421.40" y="563.57" width="5.1" height="5.1" fill="#0000ff"/>
<rect x="488.72" y="563.57" width="5.1" height="5.1" fill="#0000ff"/>
<rect x="556.04" y="563.57" width="5.1" height="5.1" fill="#0000ff"/>
<rect x="589.70" y="563.57" width="5.1" height="5.1" fill="#0000ff"/>
<path d="M385.0 400.8 V601.2 H620.3" fill="none" stroke="#000" stroke-width="1.4"/>
<line x1="385.0" y1="400.8" x2="620.3" y2="400.8" stroke="#000" stroke-width="1.4"/>
<line x1="620.3" y1="400.8" x2="620.3" y2="601.2" stroke="#ff3333" stroke-width="1.4"/>
<line x1="649.3" y1="400.8" x2="649.3" y2="601.2" stroke="#0000ff" stroke-width="1.5"/>
<line x1="381.4" y1="590.60" x2="385.0" y2="590.60" stroke="#000" stroke-width="1.3"/>
<line x1="620.3" y1="590.60" x2="623.9" y2="590.60" stroke="#ff3333" stroke-width="1.3"/>
<text x="378.5" y="594.7" font-size="11.5" text-anchor="end" fill="#000" >0</text>
<text x="626.3" y="594.7" font-size="11.5" text-anchor="start" fill="#ff3333" >0</text>
<line x1="383.0" y1="569.50" x2="385.0" y2="569.50" stroke="#000" stroke-width="1.3"/>
<line x1="620.3" y1="569.50" x2="622.3" y2="569.50" stroke="#ff3333" stroke-width="1.3"/>
<line x1="381.4" y1="548.40" x2="385.0" y2="548.40" stroke="#000" stroke-width="1.3"/>
<line x1="620.3" y1="548.40" x2="623.9" y2="548.40" stroke="#ff3333" stroke-width="1.3"/>
<text x="378.5" y="552.5" font-size="11.5" text-anchor="end" fill="#000" >2</text>
<text x="626.3" y="552.5" font-size="11.5" text-anchor="start" fill="#ff3333" >2</text>
<line x1="383.0" y1="527.30" x2="385.0" y2="527.30" stroke="#000" stroke-width="1.3"/>
<line x1="620.3" y1="527.30" x2="622.3" y2="527.30" stroke="#ff3333" stroke-width="1.3"/>
<line x1="381.4" y1="506.20" x2="385.0" y2="506.20" stroke="#000" stroke-width="1.3"/>
<line x1="620.3" y1="506.20" x2="623.9" y2="506.20" stroke="#ff3333" stroke-width="1.3"/>
<text x="378.5" y="510.3" font-size="11.5" text-anchor="end" fill="#000" >4</text>
<text x="626.3" y="510.3" font-size="11.5" text-anchor="start" fill="#ff3333" >4</text>
<line x1="383.0" y1="485.10" x2="385.0" y2="485.10" stroke="#000" stroke-width="1.3"/>
<line x1="620.3" y1="485.10" x2="622.3" y2="485.10" stroke="#ff3333" stroke-width="1.3"/>
<line x1="381.4" y1="464.00" x2="385.0" y2="464.00" stroke="#000" stroke-width="1.3"/>
<line x1="620.3" y1="464.00" x2="623.9" y2="464.00" stroke="#ff3333" stroke-width="1.3"/>
<text x="378.5" y="468.1" font-size="11.5" text-anchor="end" fill="#000" >6</text>
<text x="626.3" y="468.1" font-size="11.5" text-anchor="start" fill="#ff3333" >6</text>
<line x1="383.0" y1="442.90" x2="385.0" y2="442.90" stroke="#000" stroke-width="1.3"/>
<line x1="620.3" y1="442.90" x2="622.3" y2="442.90" stroke="#ff3333" stroke-width="1.3"/>
<line x1="381.4" y1="421.80" x2="385.0" y2="421.80" stroke="#000" stroke-width="1.3"/>
<line x1="620.3" y1="421.80" x2="623.9" y2="421.80" stroke="#ff3333" stroke-width="1.3"/>
<text x="378.5" y="425.9" font-size="11.5" text-anchor="end" fill="#000" >8</text>
<text x="626.3" y="425.9" font-size="11.5" text-anchor="start" fill="#ff3333" >8</text>
<line x1="383.0" y1="400.70" x2="385.0" y2="400.70" stroke="#000" stroke-width="1.3"/>
<line x1="620.3" y1="400.70" x2="622.3" y2="400.70" stroke="#ff3333" stroke-width="1.3"/>
<line x1="395.90" y1="601.2" x2="395.90" y2="605.0" stroke="#000" stroke-width="1.3"/>
<text x="395.9" y="616.4" font-size="11.5" text-anchor="middle" fill="#000" >0</text>
<line x1="423.95" y1="601.2" x2="423.95" y2="603.4000000000001" stroke="#000" stroke-width="1.3"/>
<line x1="452.00" y1="601.2" x2="452.00" y2="605.0" stroke="#000" stroke-width="1.3"/>
<text x="452" y="616.4" font-size="11.5" text-anchor="middle" fill="#000" >1</text>
<line x1="480.05" y1="601.2" x2="480.05" y2="603.4000000000001" stroke="#000" stroke-width="1.3"/>
<line x1="508.10" y1="601.2" x2="508.10" y2="605.0" stroke="#000" stroke-width="1.3"/>
<text x="508.1" y="616.4" font-size="11.5" text-anchor="middle" fill="#000" >2</text>
<line x1="536.15" y1="601.2" x2="536.15" y2="603.4000000000001" stroke="#000" stroke-width="1.3"/>
<line x1="564.20" y1="601.2" x2="564.20" y2="605.0" stroke="#000" stroke-width="1.3"/>
<text x="564.2" y="616.4" font-size="11.5" text-anchor="middle" fill="#000" >3</text>
<line x1="592.25" y1="601.2" x2="592.25" y2="603.4000000000001" stroke="#000" stroke-width="1.3"/>
<line x1="620.30" y1="601.2" x2="620.30" y2="605.0" stroke="#000" stroke-width="1.3"/>
<text x="620.3" y="616.4" font-size="11.5" text-anchor="middle" fill="#000" >4</text>
<line x1="649.3" y1="601.20" x2="653.0999999999999" y2="601.20" stroke="#0000ff" stroke-width="1.4"/>
<text x="654.6" y="605.3" font-size="11.5" text-anchor="start" fill="#0000ff" >0.6</text>
<line x1="649.3" y1="551.10" x2="651.3" y2="551.10" stroke="#0000ff" stroke-width="1.4"/>
<line x1="649.3" y1="501.00" x2="653.0999999999999" y2="501.00" stroke="#0000ff" stroke-width="1.4"/>
<text x="654.6" y="505.1" font-size="11.5" text-anchor="start" fill="#0000ff" >0.8</text>
<line x1="649.3" y1="450.90" x2="651.3" y2="450.90" stroke="#0000ff" stroke-width="1.4"/>
<line x1="649.3" y1="400.80" x2="653.0999999999999" y2="400.80" stroke="#0000ff" stroke-width="1.4"/>
<text x="654.6" y="404.9" font-size="11.5" text-anchor="start" fill="#0000ff" >1.0</text>
<text x="503.4" y="628.6" font-size="12" text-anchor="middle" fill="#000" ><tspan font-style="italic">T</tspan><tspan font-size="8.5" dy="3.6">span</tspan><tspan dy="-3.6"> (K)</tspan></text>
<text transform="translate(364.3,501.2) rotate(-90)" font-size="12" text-anchor="middle" fill="#000">COP<tspan font-size="8.5" dy="3.4">sys</tspan></text>
<text transform="translate(642.1,500.4) rotate(-90)" font-size="12.5" text-anchor="middle" fill="#ff3333">Q<tspan font-size="8.8" dy="2.7">C</tspan><tspan dy="-2.7"> (W)</tspan></text>
<circle cx="630.9" cy="515.4" r="0.9" fill="#ff3333"/>
<text transform="translate(680.4,500.1) rotate(-90)" font-size="12.5" text-anchor="middle" fill="#0000ff">W<tspan font-size="8.8" dy="2.7">in</tspan><tspan dy="-2.7">(W)</tspan></text>
<circle cx="669.4" cy="514.3" r="0.9" fill="#0000ff"/>
<rect x="487.6" y="432.3" width="116.7" height="24.1" fill="#444" opacity="0.75"/>
<rect x="485.5" y="430.2" width="116.7" height="24.1" fill="#fff" stroke="#000" stroke-width="1"/>
<rect x="495.25" y="433.75" width="5.1" height="5.1" fill="#000"/>
<rect x="515.85" y="433.75" width="5.1" height="5.1" fill="#e84a4a"/>
<rect x="536.75" y="433.75" width="5.1" height="5.1" fill="#0000ff"/>
<circle cx="497.8" cy="448" r="3.1" fill="#000"/>
<circle cx="518.4" cy="448" r="3.1" fill="#f23a3a"/>
<circle cx="539.3" cy="448" r="3.1" fill="#0000ff"/>
<text x="552.4" y="439.7" font-size="9.4" text-anchor="start" fill="#111" >Single-unit</text>
<text x="552.4" y="451.6" font-size="9.4" text-anchor="start" fill="#111" >Double-unit</text>
</svg></body></html>
